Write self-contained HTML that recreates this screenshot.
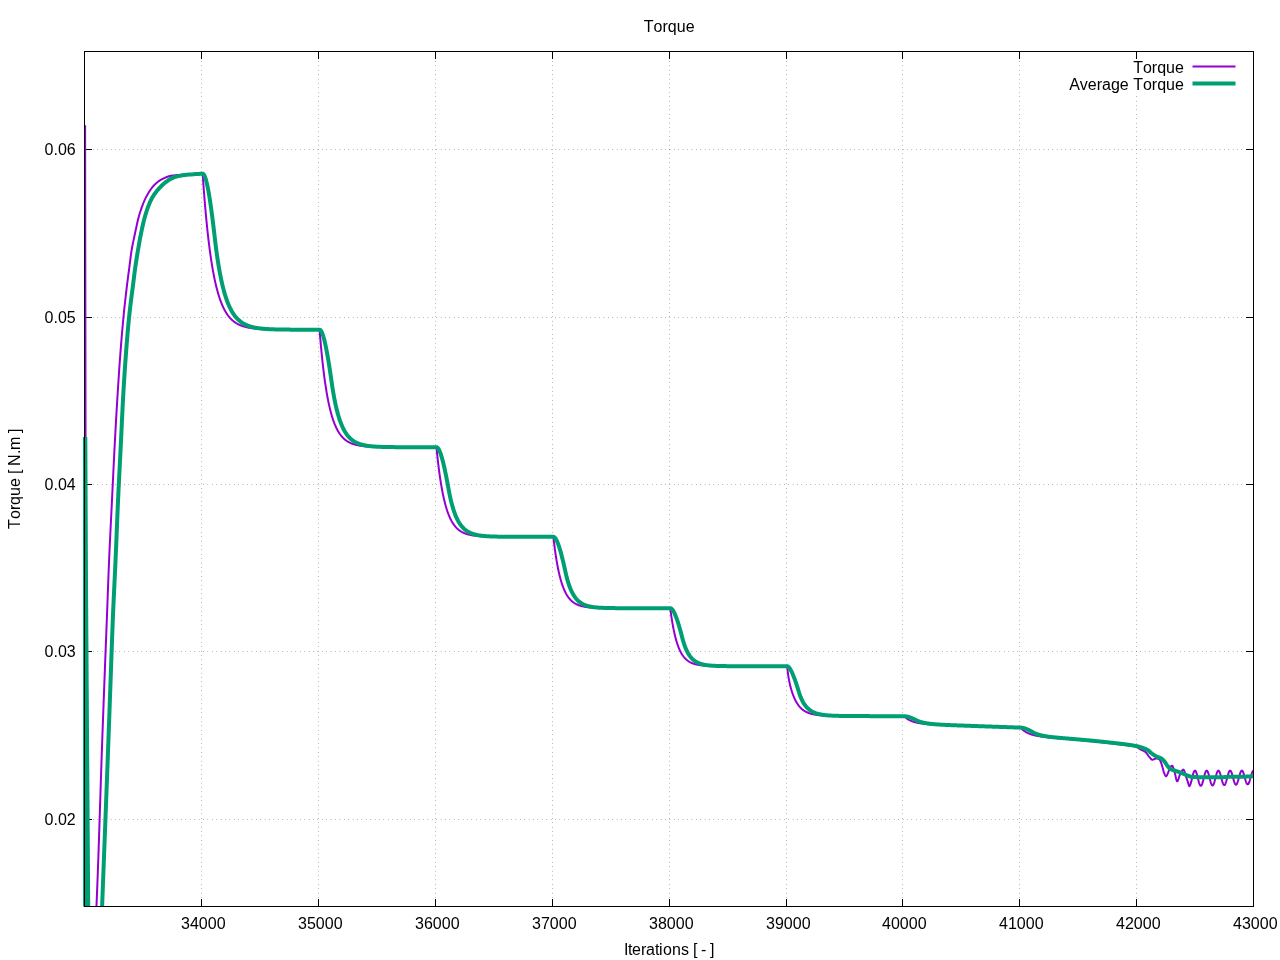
<!DOCTYPE html>
<html lang="en">
<head>
<meta charset="utf-8">
<title>Torque</title>
<style>
html,body{margin:0;padding:0;background:#fff;}
body{width:1280px;height:960px;overflow:hidden;}
svg{display:block;}
</style>
</head>
<body>
<svg width="1280" height="960" viewBox="0 0 1280 960" role="img" aria-label="Torque">
<rect width="1280" height="960" fill="#fff"/>
<g stroke="#000" stroke-width="1" stroke-dasharray="0.4 4" fill="none" stroke-opacity="0.7">
<path d="M84.5,149.5 H1253.5"/>
<path d="M84.5,317.5 H1253.5"/>
<path d="M84.5,484.5 H1253.5"/>
<path d="M84.5,651.5 H1253.5"/>
<path d="M84.5,819.5 H1253.5"/>
<path d="M201.5,906.5 V51.5"/>
<path d="M318.5,906.5 V51.5"/>
<path d="M435.5,906.5 V51.5"/>
<path d="M552.5,906.5 V51.5"/>
<path d="M669.5,906.5 V51.5"/>
<path d="M786.5,906.5 V51.5"/>
<path d="M902.5,906.5 V51.5"/>
<path d="M1019.5,906.5 V51.5"/>
<path d="M1136.5,906.5 V51.5"/>
</g>
<g stroke="#000" stroke-width="1" fill="none">
<path d="M84.5,149.5 h7.5 M1253.5,149.5 h-7.5"/>
<path d="M84.5,317.5 h7.5 M1253.5,317.5 h-7.5"/>
<path d="M84.5,484.5 h7.5 M1253.5,484.5 h-7.5"/>
<path d="M84.5,651.5 h7.5 M1253.5,651.5 h-7.5"/>
<path d="M84.5,819.5 h7.5 M1253.5,819.5 h-7.5"/>
<path d="M201.5,906.5 v-7.5 M201.5,51.5 v7.5"/>
<path d="M318.5,906.5 v-7.5 M318.5,51.5 v7.5"/>
<path d="M435.5,906.5 v-7.5 M435.5,51.5 v7.5"/>
<path d="M552.5,906.5 v-7.5 M552.5,51.5 v7.5"/>
<path d="M669.5,906.5 v-7.5 M669.5,51.5 v7.5"/>
<path d="M786.5,906.5 v-7.5 M786.5,51.5 v7.5"/>
<path d="M902.5,906.5 v-7.5 M902.5,51.5 v7.5"/>
<path d="M1019.5,906.5 v-7.5 M1019.5,51.5 v7.5"/>
<path d="M1136.5,906.5 v-7.5 M1136.5,51.5 v7.5"/>
<path d="M1253.5,906.5 v-7.5 M1253.5,51.5 v7.5"/>
</g>
<rect x="1062" y="59.5" width="183" height="35.5" fill="#fff"/>
<g fill="none" stroke-linejoin="round" stroke-linecap="butt">
<g stroke="#9400d3" stroke-width="2">
<path d="M85.1,125.3 L85.55,437 L86.2,906.5"/>
<path d="M96.46,906.50 L96.55,904.25 L96.65,902.00 L96.74,899.76 L96.83,897.51 L96.92,895.26 L97.01,893.01 L97.10,890.76 L97.19,888.51 L97.28,886.27 L97.37,884.02 L97.45,881.77 L97.54,879.52 L97.63,877.27 L97.71,875.02 L97.80,872.78 L97.88,870.53 L97.96,868.28 L98.04,866.03 L98.12,863.78 L98.20,861.53 L98.28,859.29 L98.36,857.04 L98.44,854.79 L98.52,852.54 L98.60,850.29 L98.67,848.04 L98.75,845.79 L98.83,843.54 L98.90,841.30 L98.98,839.05 L99.05,836.80 L99.12,834.55 L99.20,832.30 L99.27,830.05 L99.35,827.80 L99.42,825.55 L99.49,823.31 L99.56,821.06 L99.64,818.81 L99.71,816.56 L99.78,814.31 L99.85,812.06 L99.93,809.81 L100.00,807.56 L100.07,805.31 L100.14,803.07 L100.22,800.82 L100.29,798.57 L100.36,796.32 L100.43,794.07 L100.51,791.82 L100.58,789.57 L100.65,787.32 L100.72,785.08 L100.80,782.83 L100.87,780.58 L100.94,778.33 L101.02,776.08 L101.09,773.83 L101.17,771.58 L101.24,769.33 L101.32,767.09 L101.39,764.84 L101.47,762.59 L101.54,760.34 L101.62,758.09 L101.70,755.84 L101.78,753.59 L101.85,751.34 L101.93,749.10 L102.01,746.85 L102.09,744.60 L102.17,742.35 L102.25,740.10 L102.33,737.85 L102.41,735.60 L102.49,733.36 L102.58,731.11 L102.66,728.86 L102.74,726.61 L102.82,724.36 L102.90,722.11 L102.99,719.86 L103.07,717.62 L103.15,715.37 L103.24,713.12 L103.32,710.87 L103.40,708.62 L103.49,706.37 L103.57,704.13 L103.65,701.88 L103.74,699.63 L103.82,697.38 L103.91,695.13 L103.99,692.88 L104.08,690.64 L104.16,688.39 L104.25,686.14 L104.33,683.89 L104.42,681.64 L104.50,679.39 L104.59,677.14 L104.67,674.90 L104.76,672.65 L104.85,670.40 L104.93,668.15 L105.02,665.90 L105.11,663.65 L105.20,661.41 L105.28,659.16 L105.37,656.91 L105.46,654.66 L105.55,652.41 L105.63,650.17 L105.72,647.92 L105.81,645.67 L105.90,643.42 L105.98,641.17 L106.07,638.92 L106.16,636.68 L106.25,634.43 L106.33,632.18 L106.42,629.93 L106.51,627.68 L106.60,625.43 L106.68,623.19 L106.77,620.94 L106.86,618.69 L106.94,616.44 L107.03,614.19 L107.12,611.94 L107.20,609.70 L107.29,607.45 L107.37,605.20 L107.45,602.95 L107.54,600.70 L107.62,598.45 L107.70,596.20 L107.78,593.96 L107.87,591.71 L107.95,589.46 L108.03,587.21 L108.12,584.96 L108.20,582.71 L108.29,580.47 L108.37,578.22 L108.46,575.97 L108.54,573.72 L108.63,571.47 L108.72,569.22 L108.81,566.98 L108.90,564.73 L109.00,562.48 L109.09,560.23 L109.19,557.98 L109.29,555.74 L109.39,553.49 L109.49,551.24 L109.59,548.99 L109.70,546.75 L109.80,544.50 L109.91,542.25 L110.01,540.00 L110.12,537.76 L110.23,535.51 L110.34,533.26 L110.45,531.01 L110.56,528.77 L110.68,526.52 L110.79,524.27 L110.90,522.02 L111.01,519.78 L111.13,517.53 L111.24,515.28 L111.35,513.04 L111.47,510.79 L111.58,508.54 L111.69,506.29 L111.80,504.05 L111.91,501.80 L112.02,499.55 L112.13,497.31 L112.24,495.06 L112.35,492.81 L112.46,490.56 L112.56,488.32 L112.67,486.07 L112.78,483.82 L112.89,481.57 L112.99,479.33 L113.10,477.08 L113.21,474.83 L113.32,472.58 L113.43,470.34 L113.54,468.09 L113.65,465.84 L113.76,463.59 L113.87,461.35 L113.98,459.10 L114.09,456.85 L114.20,454.61 L114.32,452.36 L114.43,450.11 L114.55,447.86 L114.67,445.62 L114.79,443.37 L114.91,441.12 L115.03,438.88 L115.15,436.63 L115.27,434.38 L115.40,432.14 L115.52,429.89 L115.64,427.64 L115.77,425.40 L115.90,423.15 L116.02,420.90 L116.15,418.66 L116.28,416.41 L116.41,414.17 L116.54,411.92 L116.67,409.67 L116.81,407.43 L116.94,405.18 L117.08,402.94 L117.21,400.69 L117.35,398.44 L117.49,396.20 L117.63,393.95 L117.77,391.71 L117.91,389.46 L118.05,387.22 L118.20,384.97 L118.34,382.72 L118.49,380.48 L118.63,378.23 L118.78,375.99 L118.93,373.74 L119.08,371.50 L119.24,369.25 L119.39,367.01 L119.55,364.77 L119.71,362.52 L119.87,360.28 L120.03,358.03 L120.20,355.79 L120.37,353.55 L120.54,351.30 L120.72,349.06 L120.89,346.82 L121.07,344.57 L121.25,342.33 L121.44,340.09 L121.62,337.85 L121.81,335.60 L122.00,333.36 L122.20,331.12 L122.39,328.88 L122.59,326.64 L122.80,324.40 L123.00,322.16 L123.22,319.92 L123.43,317.68 L123.65,315.44 L123.87,313.20 L124.10,310.96 L124.33,308.72 L124.57,306.48 L124.81,304.25 L125.05,302.01 L125.30,299.77 L125.55,297.54 L125.80,295.30 L126.06,293.07 L126.33,290.83 L126.59,288.60 L126.86,286.37 L127.14,284.13 L127.43,281.90 L127.72,279.67 L128.01,277.44 L128.30,275.21 L128.60,272.98 L128.89,270.75 L129.18,268.51 L129.46,266.28 L129.74,264.05 L130.02,261.82 L130.30,259.58 L130.58,257.35 L130.88,255.12 L131.20,252.90 L131.54,250.67 L131.92,248.46 L132.32,246.24 L132.75,244.03 L133.20,241.83 L133.67,239.63 L134.14,237.43 L134.62,235.23 L135.09,233.03 L135.56,230.83 L136.02,228.63 L136.49,226.43 L136.96,224.23 L137.45,222.03 L137.97,219.85 L138.53,217.67 L139.12,215.50 L139.76,213.34 L140.43,211.19 L141.14,209.06 L141.89,206.94 L142.68,204.84 L143.52,202.75 L144.40,200.68 L145.34,198.64 L146.34,196.63 L147.41,194.66 L148.55,192.72 L149.76,190.83 L151.04,188.99 L152.40,187.21 L153.86,185.52 L155.43,183.92 L157.09,182.44 L158.86,181.08 L160.73,179.86 L162.68,178.78 L164.70,177.82 L166.78,177.00 L168.90,176.32 L171.07,175.79 L173.26,175.41 L175.49,175.17 L177.72,175.00 L179.97,174.88 L182.21,174.76 L184.46,174.63 L186.71,174.50 L188.95,174.37 L191.20,174.25 L193.45,174.13 L195.69,174.01 L197.94,173.90 L200.19,173.80 L202.65,173.70 L202.95,178.05 L203.25,182.28 L203.55,186.40 L203.85,190.40 L204.15,194.28 L204.45,198.06 L204.75,201.74 L205.05,205.31 L205.35,208.78 L205.65,212.15 L205.95,215.43 L206.25,218.62 L206.55,221.72 L206.85,224.73 L207.15,227.66 L207.45,230.51 L207.75,233.28 L208.05,235.97 L208.35,238.59 L208.65,241.13 L208.95,243.60 L209.25,246.00 L209.55,248.34 L209.85,250.61 L210.15,252.82 L210.45,254.96 L210.75,257.05 L211.05,259.07 L211.35,261.04 L211.65,262.96 L211.95,264.82 L212.25,266.63 L212.55,268.39 L212.85,270.10 L213.15,271.77 L213.45,273.38 L213.75,274.95 L214.05,276.48 L214.35,277.97 L214.65,279.41 L214.95,280.81 L215.25,282.18 L215.55,283.50 L215.85,284.79 L216.15,286.05 L216.45,287.27 L216.75,288.45 L217.05,289.60 L217.35,290.72 L217.65,291.81 L217.95,292.86 L218.25,293.89 L218.55,294.89 L218.85,295.86 L219.15,296.81 L219.45,297.73 L219.75,298.62 L220.05,299.48 L220.35,300.33 L220.65,301.15 L220.95,301.94 L221.25,302.72 L221.55,303.47 L221.85,304.20 L222.15,304.92 L222.45,305.61 L222.75,306.28 L223.05,306.93 L223.35,307.57 L223.65,308.19 L223.95,308.79 L224.25,309.37 L224.55,309.94 L224.85,310.49 L225.15,311.02 L225.45,311.55 L225.75,312.05 L226.05,312.54 L226.35,313.02 L226.65,313.49 L226.95,313.94 L227.25,314.38 L227.55,314.81 L227.85,315.22 L228.15,315.63 L228.45,316.02 L228.75,316.40 L229.05,316.77 L229.35,317.13 L229.65,317.48 L229.95,317.83 L230.25,318.16 L230.55,318.48 L230.85,318.79 L231.15,319.10 L231.45,319.39 L231.75,319.68 L232.05,319.96 L232.35,320.23 L232.65,320.50 L232.95,320.75 L233.25,321.00 L233.55,321.24 L233.85,321.48 L234.15,321.71 L234.45,321.93 L234.75,322.15 L235.05,322.36 L235.35,322.57 L235.65,322.76 L235.95,322.96 L236.25,323.15 L236.55,323.33 L236.85,323.51 L237.15,323.68 L237.45,323.85 L237.75,324.01 L238.05,324.17 L238.35,324.32 L238.65,324.47 L238.95,324.62 L239.25,324.76 L239.55,324.90 L239.85,325.03 L240.15,325.16 L240.45,325.29 L240.75,325.41 L241.05,325.53 L241.35,325.65 L241.65,325.76 L241.95,325.87 L242.25,325.98 L242.55,326.08 L242.85,326.18 L243.15,326.28 L243.45,326.38 L243.75,326.47 L244.05,326.56 L244.35,326.65 L244.65,326.73 L244.95,326.82 L245.25,326.90 L245.55,326.97 L245.85,327.05 L246.15,327.12 L246.45,327.20 L246.75,327.27 L247.05,327.33 L247.35,327.40 L247.65,327.46 L247.95,327.53 L248.25,327.59 L248.55,327.65 L248.85,327.70 L249.15,327.76 L249.45,327.81 L249.75,327.87 L250.05,327.92 L250.35,327.97 L250.65,328.02 L250.95,328.06 L251.25,328.11 L251.55,328.15 L251.85,328.20 L252.15,328.24 L252.45,328.28 L252.75,328.32 L253.05,328.36 L253.35,328.39 L253.65,328.43 L253.95,328.47 L254.25,328.50 L254.55,328.53 L254.85,328.57 L255.15,328.60 L255.45,328.63 L255.75,328.66 L256.05,328.69 L256.35,328.72 L256.65,328.74 L256.95,328.77 L257.25,328.80 L257.55,328.82 L257.85,328.85 L258.15,328.87 L258.45,328.89 L258.75,328.92 L259.05,328.94 L259.35,328.96 L259.65,328.98 L259.95,329.00 L260.25,329.02 L260.55,329.04 L260.85,329.06 L261.15,329.07 L261.45,329.09 L261.75,329.11 L262.05,329.13 L262.35,329.14 L262.65,329.16 L262.95,329.17 L263.25,329.19 L263.55,329.20 L263.85,329.22 L264.15,329.23 L264.45,329.24 L264.75,329.25 L265.05,329.27 L265.35,329.28 L265.65,329.29 L265.95,329.30 L266.25,329.31 L266.55,329.32 L266.85,329.33 L267.15,329.34 L267.45,329.35 L267.75,329.36 L268.05,329.37 L268.35,329.38 L268.65,329.39 L268.95,329.40 L269.25,329.41 L269.55,329.42 L269.85,329.42 L270.15,329.43 L270.45,329.44 L270.75,329.45 L271.05,329.45 L271.35,329.46 L271.65,329.47 L271.95,329.47 L272.25,329.48 L272.55,329.49 L272.85,329.49 L273.15,329.50 L273.45,329.50 L273.75,329.51 L274.05,329.51 L274.35,329.52 L274.65,329.52 L274.95,329.53 L275.25,329.53 L275.55,329.54 L275.85,329.54 L276.15,329.55 L276.45,329.55 L276.75,329.56 L277.05,329.56 L277.35,329.56 L277.65,329.57 L277.95,329.57 L278.25,329.58 L278.55,329.58 L278.85,329.58 L279.15,329.59 L279.45,329.59 L279.75,329.59 L280.05,329.59 L280.35,329.60 L280.65,329.60 L280.95,329.60 L281.25,329.61 L281.55,329.61 L281.85,329.61 L282.15,329.61 L282.45,329.62 L282.75,329.62 L283.05,329.62 L283.35,329.62 L283.65,329.63 L283.95,329.63 L284.25,329.63 L284.55,329.63 L284.85,329.63 L285.15,329.63 L285.45,329.64 L285.75,329.64 L286.05,329.64 L286.35,329.64 L286.65,329.64 L286.95,329.65 L287.25,329.65 L287.55,329.65 L287.85,329.65 L288.15,329.65 L288.45,329.65 L288.75,329.65 L289.05,329.65 L289.35,329.66 L289.65,329.66 L289.95,329.66 L290.25,329.66 L290.55,329.66 L290.85,329.66 L291.15,329.66 L291.45,329.66 L291.75,329.67 L292.05,329.67 L292.35,329.67 L292.65,329.67 L292.95,329.67 L293.25,329.67 L293.55,329.67 L293.85,329.67 L294.15,329.67 L294.45,329.67 L294.75,329.67 L295.05,329.67 L295.35,329.68 L295.65,329.68 L295.95,329.68 L296.25,329.68 L296.55,329.68 L296.85,329.68 L297.15,329.68 L297.45,329.68 L297.75,329.68 L298.05,329.68 L298.35,329.68 L298.65,329.68 L298.95,329.68 L299.25,329.68 L299.55,329.68 L299.85,329.68 L300.15,329.68 L300.45,329.68 L300.75,329.69 L301.05,329.69 L301.35,329.69 L301.65,329.69 L301.95,329.69 L302.25,329.69 L302.55,329.69 L302.85,329.69 L303.15,329.69 L303.45,329.69 L303.75,329.69 L304.05,329.69 L304.35,329.69 L304.65,329.69 L304.95,329.69 L305.25,329.69 L305.55,329.69 L305.85,329.69 L306.15,329.69 L306.45,329.69 L306.75,329.69 L307.05,329.69 L307.35,329.69 L307.65,329.69 L307.95,329.69 L308.25,329.69 L308.55,329.69 L308.85,329.69 L309.15,329.69 L309.45,329.69 L309.75,329.69 L310.05,329.69 L310.35,329.69 L310.65,329.69 L310.95,329.69 L311.25,329.69 L311.55,329.69 L311.85,329.69 L312.15,329.69 L312.45,329.70 L312.75,329.70 L313.05,329.70 L313.35,329.70 L313.65,329.70 L313.95,329.70 L314.25,329.70 L314.55,329.70 L314.85,329.70 L315.15,329.70 L315.45,329.70 L315.75,329.70 L316.05,329.70 L316.35,329.70 L316.65,329.70 L316.95,329.70 L317.25,329.70 L317.55,329.70 L317.85,329.70 L318.15,329.70 L318.45,329.70 L318.75,329.70 L319.05,329.70 L319.35,329.70 L319.65,330.96 L319.95,334.65 L320.25,338.22 L320.55,341.68 L320.85,345.03 L321.15,348.27 L321.45,351.41 L321.75,354.45 L322.05,357.40 L322.35,360.25 L322.65,363.01 L322.95,365.68 L323.25,368.27 L323.55,370.77 L323.85,373.20 L324.15,375.55 L324.45,377.82 L324.75,380.03 L325.05,382.16 L325.35,384.22 L325.65,386.22 L325.95,388.16 L326.25,390.03 L326.55,391.85 L326.85,393.60 L327.15,395.30 L327.45,396.95 L327.75,398.55 L328.05,400.09 L328.35,401.59 L328.65,403.03 L328.95,404.44 L329.25,405.79 L329.55,407.11 L329.85,408.38 L330.15,409.61 L330.45,410.81 L330.75,411.96 L331.05,413.08 L331.35,414.16 L331.65,415.21 L331.95,416.23 L332.25,417.21 L332.55,418.16 L332.85,419.08 L333.15,419.98 L333.45,420.84 L333.75,421.68 L334.05,422.49 L334.35,423.27 L334.65,424.03 L334.95,424.77 L335.25,425.48 L335.55,426.17 L335.85,426.84 L336.15,427.48 L336.45,428.11 L336.75,428.71 L337.05,429.30 L337.35,429.87 L337.65,430.42 L337.95,430.95 L338.25,431.47 L338.55,431.97 L338.85,432.45 L339.15,432.92 L339.45,433.37 L339.75,433.81 L340.05,434.24 L340.35,434.65 L340.65,435.05 L340.95,435.43 L341.25,435.81 L341.55,436.17 L341.85,436.52 L342.15,436.86 L342.45,437.19 L342.75,437.50 L343.05,437.81 L343.35,438.11 L343.65,438.40 L343.95,438.68 L344.25,438.95 L344.55,439.21 L344.85,439.46 L345.15,439.71 L345.45,439.95 L345.75,440.18 L346.05,440.40 L346.35,440.62 L346.65,440.82 L346.95,441.03 L347.25,441.22 L347.55,441.41 L347.85,441.60 L348.15,441.77 L348.45,441.95 L348.75,442.11 L349.05,442.27 L349.35,442.43 L349.65,442.58 L349.95,442.73 L350.25,442.87 L350.55,443.01 L350.85,443.14 L351.15,443.27 L351.45,443.39 L351.75,443.52 L352.05,443.63 L352.35,443.75 L352.65,443.86 L352.95,443.96 L353.25,444.06 L353.55,444.16 L353.85,444.26 L354.15,444.35 L354.45,444.44 L354.75,444.53 L355.05,444.62 L355.35,444.70 L355.65,444.78 L355.95,444.85 L356.25,444.93 L356.55,445.00 L356.85,445.07 L357.15,445.14 L357.45,445.20 L357.75,445.27 L358.05,445.33 L358.35,445.39 L358.65,445.45 L358.95,445.50 L359.25,445.56 L359.55,445.61 L359.85,445.66 L360.15,445.71 L360.45,445.75 L360.75,445.80 L361.05,445.84 L361.35,445.89 L361.65,445.93 L361.95,445.97 L362.25,446.01 L362.55,446.05 L362.85,446.08 L363.15,446.12 L363.45,446.15 L363.75,446.19 L364.05,446.22 L364.35,446.25 L364.65,446.28 L364.95,446.31 L365.25,446.34 L365.55,446.36 L365.85,446.39 L366.15,446.42 L366.45,446.44 L366.75,446.47 L367.05,446.49 L367.35,446.51 L367.65,446.53 L367.95,446.55 L368.25,446.58 L368.55,446.59 L368.85,446.61 L369.15,446.63 L369.45,446.65 L369.75,446.67 L370.05,446.69 L370.35,446.70 L370.65,446.72 L370.95,446.73 L371.25,446.75 L371.55,446.76 L371.85,446.78 L372.15,446.79 L372.45,446.80 L372.75,446.81 L373.05,446.83 L373.35,446.84 L373.65,446.85 L373.95,446.86 L374.25,446.87 L374.55,446.88 L374.85,446.89 L375.15,446.90 L375.45,446.91 L375.75,446.92 L376.05,446.93 L376.35,446.94 L376.65,446.95 L376.95,446.95 L377.25,446.96 L377.55,446.97 L377.85,446.98 L378.15,446.98 L378.45,446.99 L378.75,447.00 L379.05,447.00 L379.35,447.01 L379.65,447.02 L379.95,447.02 L380.25,447.03 L380.55,447.03 L380.85,447.04 L381.15,447.04 L381.45,447.05 L381.75,447.05 L382.05,447.06 L382.35,447.06 L382.65,447.07 L382.95,447.07 L383.25,447.08 L383.55,447.08 L383.85,447.08 L384.15,447.09 L384.45,447.09 L384.75,447.09 L385.05,447.10 L385.35,447.10 L385.65,447.10 L385.95,447.11 L386.25,447.11 L386.55,447.11 L386.85,447.12 L387.15,447.12 L387.45,447.12 L387.75,447.12 L388.05,447.13 L388.35,447.13 L388.65,447.13 L388.95,447.13 L389.25,447.13 L389.55,447.14 L389.85,447.14 L390.15,447.14 L390.45,447.14 L390.75,447.14 L391.05,447.15 L391.35,447.15 L391.65,447.15 L391.95,447.15 L392.25,447.15 L392.55,447.15 L392.85,447.16 L393.15,447.16 L393.45,447.16 L393.75,447.16 L394.05,447.16 L394.35,447.16 L394.65,447.16 L394.95,447.16 L395.25,447.17 L395.55,447.17 L395.85,447.17 L396.15,447.17 L396.45,447.17 L396.75,447.17 L397.05,447.17 L397.35,447.17 L397.65,447.17 L397.95,447.17 L398.25,447.18 L398.55,447.18 L398.85,447.18 L399.15,447.18 L399.45,447.18 L399.75,447.18 L400.05,447.18 L400.35,447.18 L400.65,447.18 L400.95,447.18 L401.25,447.18 L401.55,447.18 L401.85,447.18 L402.15,447.18 L402.45,447.18 L402.75,447.18 L403.05,447.19 L403.35,447.19 L403.65,447.19 L403.95,447.19 L404.25,447.19 L404.55,447.19 L404.85,447.19 L405.15,447.19 L405.45,447.19 L405.75,447.19 L406.05,447.19 L406.35,447.19 L406.65,447.19 L406.95,447.19 L407.25,447.19 L407.55,447.19 L407.85,447.19 L408.15,447.19 L408.45,447.19 L408.75,447.19 L409.05,447.19 L409.35,447.19 L409.65,447.19 L409.95,447.19 L410.25,447.19 L410.55,447.19 L410.85,447.19 L411.15,447.19 L411.45,447.19 L411.75,447.19 L412.05,447.19 L412.35,447.19 L412.65,447.19 L412.95,447.19 L413.25,447.20 L413.55,447.20 L413.85,447.20 L414.15,447.20 L414.45,447.20 L414.75,447.20 L415.05,447.20 L415.35,447.20 L415.65,447.20 L415.95,447.20 L416.25,447.20 L416.55,447.20 L416.85,447.20 L417.15,447.20 L417.45,447.20 L417.75,447.20 L418.05,447.20 L418.35,447.20 L418.65,447.20 L418.95,447.20 L419.25,447.20 L419.55,447.20 L419.85,447.20 L420.15,447.20 L420.45,447.20 L420.75,447.20 L421.05,447.20 L421.35,447.20 L421.65,447.20 L421.95,447.20 L422.25,447.20 L422.55,447.20 L422.85,447.20 L423.15,447.20 L423.45,447.20 L423.75,447.20 L424.05,447.20 L424.35,447.20 L424.65,447.20 L424.95,447.20 L425.25,447.20 L425.55,447.20 L425.85,447.20 L426.15,447.20 L426.45,447.20 L426.75,447.20 L427.05,447.20 L427.35,447.20 L427.65,447.20 L427.95,447.20 L428.25,447.20 L428.55,447.20 L428.85,447.20 L429.15,447.20 L429.45,447.20 L429.75,447.20 L430.05,447.20 L430.35,447.20 L430.65,447.20 L430.95,447.20 L431.25,447.20 L431.55,447.20 L431.85,447.20 L432.15,447.20 L432.45,447.20 L432.75,447.20 L433.05,447.20 L433.35,447.20 L433.65,447.20 L433.95,447.20 L434.25,447.20 L434.55,447.20 L434.85,447.20 L435.15,447.20 L435.45,447.20 L435.75,447.20 L436.05,447.20 L436.35,447.20 L436.65,449.24 L436.95,452.20 L437.25,455.07 L437.55,457.84 L437.85,460.52 L438.15,463.10 L438.45,465.60 L438.75,468.01 L439.05,470.35 L439.35,472.60 L439.65,474.77 L439.95,476.88 L440.25,478.91 L440.55,480.87 L440.85,482.77 L441.15,484.60 L441.45,486.37 L441.75,488.08 L442.05,489.73 L442.35,491.32 L442.65,492.86 L442.95,494.35 L443.25,495.79 L443.55,497.18 L443.85,498.53 L444.15,499.82 L444.45,501.08 L444.75,502.29 L445.05,503.46 L445.35,504.59 L445.65,505.68 L445.95,506.73 L446.25,507.75 L446.55,508.74 L446.85,509.69 L447.15,510.61 L447.45,511.50 L447.75,512.35 L448.05,513.18 L448.35,513.98 L448.65,514.76 L448.95,515.50 L449.25,516.22 L449.55,516.92 L449.85,517.60 L450.15,518.25 L450.45,518.88 L450.75,519.48 L451.05,520.07 L451.35,520.64 L451.65,521.19 L451.95,521.71 L452.25,522.23 L452.55,522.72 L452.85,523.20 L453.15,523.66 L453.45,524.10 L453.75,524.53 L454.05,524.95 L454.35,525.35 L454.65,525.74 L454.95,526.11 L455.25,526.48 L455.55,526.83 L455.85,527.16 L456.15,527.49 L456.45,527.81 L456.75,528.11 L457.05,528.41 L457.35,528.69 L457.65,528.97 L457.95,529.23 L458.25,529.49 L458.55,529.74 L458.85,529.97 L459.15,530.21 L459.45,530.43 L459.75,530.65 L460.05,530.85 L460.35,531.06 L460.65,531.25 L460.95,531.44 L461.25,531.62 L461.55,531.80 L461.85,531.97 L462.15,532.13 L462.45,532.29 L462.75,532.44 L463.05,532.59 L463.35,532.73 L463.65,532.87 L463.95,533.00 L464.25,533.13 L464.55,533.26 L464.85,533.38 L465.15,533.49 L465.45,533.60 L465.75,533.71 L466.05,533.82 L466.35,533.92 L466.65,534.02 L466.95,534.11 L467.25,534.20 L467.55,534.29 L467.85,534.37 L468.15,534.46 L468.45,534.54 L468.75,534.61 L469.05,534.69 L469.35,534.76 L469.65,534.83 L469.95,534.89 L470.25,534.96 L470.55,535.02 L470.85,535.08 L471.15,535.14 L471.45,535.20 L471.75,535.25 L472.05,535.30 L472.35,535.35 L472.65,535.40 L472.95,535.45 L473.25,535.50 L473.55,535.54 L473.85,535.58 L474.15,535.62 L474.45,535.66 L474.75,535.70 L475.05,535.74 L475.35,535.78 L475.65,535.81 L475.95,535.84 L476.25,535.88 L476.55,535.91 L476.85,535.94 L477.15,535.97 L477.45,536.00 L477.75,536.02 L478.05,536.05 L478.35,536.07 L478.65,536.10 L478.95,536.12 L479.25,536.15 L479.55,536.17 L479.85,536.19 L480.15,536.21 L480.45,536.23 L480.75,536.25 L481.05,536.27 L481.35,536.29 L481.65,536.30 L481.95,536.32 L482.25,536.34 L482.55,536.35 L482.85,536.37 L483.15,536.38 L483.45,536.40 L483.75,536.41 L484.05,536.42 L484.35,536.44 L484.65,536.45 L484.95,536.46 L485.25,536.47 L485.55,536.48 L485.85,536.49 L486.15,536.50 L486.45,536.51 L486.75,536.52 L487.05,536.53 L487.35,536.54 L487.65,536.55 L487.95,536.56 L488.25,536.57 L488.55,536.58 L488.85,536.58 L489.15,536.59 L489.45,536.60 L489.75,536.60 L490.05,536.61 L490.35,536.62 L490.65,536.62 L490.95,536.63 L491.25,536.64 L491.55,536.64 L491.85,536.65 L492.15,536.65 L492.45,536.66 L492.75,536.66 L493.05,536.67 L493.35,536.67 L493.65,536.67 L493.95,536.68 L494.25,536.68 L494.55,536.69 L494.85,536.69 L495.15,536.69 L495.45,536.70 L495.75,536.70 L496.05,536.71 L496.35,536.71 L496.65,536.71 L496.95,536.71 L497.25,536.72 L497.55,536.72 L497.85,536.72 L498.15,536.73 L498.45,536.73 L498.75,536.73 L499.05,536.73 L499.35,536.74 L499.65,536.74 L499.95,536.74 L500.25,536.74 L500.55,536.74 L500.85,536.75 L501.15,536.75 L501.45,536.75 L501.75,536.75 L502.05,536.75 L502.35,536.75 L502.65,536.76 L502.95,536.76 L503.25,536.76 L503.55,536.76 L503.85,536.76 L504.15,536.76 L504.45,536.76 L504.75,536.77 L505.05,536.77 L505.35,536.77 L505.65,536.77 L505.95,536.77 L506.25,536.77 L506.55,536.77 L506.85,536.77 L507.15,536.77 L507.45,536.77 L507.75,536.78 L508.05,536.78 L508.35,536.78 L508.65,536.78 L508.95,536.78 L509.25,536.78 L509.55,536.78 L509.85,536.78 L510.15,536.78 L510.45,536.78 L510.75,536.78 L511.05,536.78 L511.35,536.78 L511.65,536.78 L511.95,536.78 L512.25,536.79 L512.55,536.79 L512.85,536.79 L513.15,536.79 L513.45,536.79 L513.75,536.79 L514.05,536.79 L514.35,536.79 L514.65,536.79 L514.95,536.79 L515.25,536.79 L515.55,536.79 L515.85,536.79 L516.15,536.79 L516.45,536.79 L516.75,536.79 L517.05,536.79 L517.35,536.79 L517.65,536.79 L517.95,536.79 L518.25,536.79 L518.55,536.79 L518.85,536.79 L519.15,536.79 L519.45,536.79 L519.75,536.79 L520.05,536.79 L520.35,536.79 L520.65,536.79 L520.95,536.79 L521.25,536.79 L521.55,536.79 L521.85,536.80 L522.15,536.80 L522.45,536.80 L522.75,536.80 L523.05,536.80 L523.35,536.80 L523.65,536.80 L523.95,536.80 L524.25,536.80 L524.55,536.80 L524.85,536.80 L525.15,536.80 L525.45,536.80 L525.75,536.80 L526.05,536.80 L526.35,536.80 L526.65,536.80 L526.95,536.80 L527.25,536.80 L527.55,536.80 L527.85,536.80 L528.15,536.80 L528.45,536.80 L528.75,536.80 L529.05,536.80 L529.35,536.80 L529.65,536.80 L529.95,536.80 L530.25,536.80 L530.55,536.80 L530.85,536.80 L531.15,536.80 L531.45,536.80 L531.75,536.80 L532.05,536.80 L532.35,536.80 L532.65,536.80 L532.95,536.80 L533.25,536.80 L533.55,536.80 L533.85,536.80 L534.15,536.80 L534.45,536.80 L534.75,536.80 L535.05,536.80 L535.35,536.80 L535.65,536.80 L535.95,536.80 L536.25,536.80 L536.55,536.80 L536.85,536.80 L537.15,536.80 L537.45,536.80 L537.75,536.80 L538.05,536.80 L538.35,536.80 L538.65,536.80 L538.95,536.80 L539.25,536.80 L539.55,536.80 L539.85,536.80 L540.15,536.80 L540.45,536.80 L540.75,536.80 L541.05,536.80 L541.35,536.80 L541.65,536.80 L541.95,536.80 L542.25,536.80 L542.55,536.80 L542.85,536.80 L543.15,536.80 L543.45,536.80 L543.75,536.80 L544.05,536.80 L544.35,536.80 L544.65,536.80 L544.95,536.80 L545.25,536.80 L545.55,536.80 L545.85,536.80 L546.15,536.80 L546.45,536.80 L546.75,536.80 L547.05,536.80 L547.35,536.80 L547.65,536.80 L547.95,536.80 L548.25,536.80 L548.55,536.80 L548.85,536.80 L549.15,536.80 L549.45,536.80 L549.75,536.80 L550.05,536.80 L550.35,536.80 L550.65,536.80 L550.95,536.80 L551.25,536.80 L551.55,536.80 L551.85,536.80 L552.15,536.80 L552.45,536.80 L552.75,536.80 L553.05,536.80 L553.35,536.80 L553.65,539.43 L553.95,541.96 L554.25,544.40 L554.55,546.75 L554.85,549.01 L555.15,551.19 L555.45,553.28 L555.75,555.31 L556.05,557.25 L556.35,559.13 L556.65,560.93 L556.95,562.67 L557.25,564.35 L557.55,565.96 L557.85,567.52 L558.15,569.01 L558.45,570.46 L558.75,571.85 L559.05,573.18 L559.35,574.47 L559.65,575.71 L559.95,576.91 L560.25,578.06 L560.55,579.17 L560.85,580.24 L561.15,581.27 L561.45,582.26 L561.75,583.21 L562.05,584.13 L562.35,585.02 L562.65,585.87 L562.95,586.69 L563.25,587.49 L563.55,588.25 L563.85,588.98 L564.15,589.69 L564.45,590.37 L564.75,591.03 L565.05,591.66 L565.35,592.27 L565.65,592.85 L565.95,593.42 L566.25,593.96 L566.55,594.49 L566.85,594.99 L567.15,595.48 L567.45,595.95 L567.75,596.40 L568.05,596.83 L568.35,597.25 L568.65,597.65 L568.95,598.04 L569.25,598.42 L569.55,598.78 L569.85,599.12 L570.15,599.46 L570.45,599.78 L570.75,600.09 L571.05,600.39 L571.35,600.67 L571.65,600.95 L571.95,601.22 L572.25,601.48 L572.55,601.72 L572.85,601.96 L573.15,602.19 L573.45,602.41 L573.75,602.62 L574.05,602.83 L574.35,603.03 L574.65,603.22 L574.95,603.40 L575.25,603.58 L575.55,603.75 L575.85,603.91 L576.15,604.07 L576.45,604.22 L576.75,604.37 L577.05,604.51 L577.35,604.65 L577.65,604.78 L577.95,604.90 L578.25,605.02 L578.55,605.14 L578.85,605.25 L579.15,605.36 L579.45,605.47 L579.75,605.57 L580.05,605.66 L580.35,605.76 L580.65,605.85 L580.95,605.93 L581.25,606.02 L581.55,606.10 L581.85,606.17 L582.15,606.25 L582.45,606.32 L582.75,606.39 L583.05,606.46 L583.35,606.52 L583.65,606.58 L583.95,606.64 L584.25,606.70 L584.55,606.75 L584.85,606.81 L585.15,606.86 L585.45,606.91 L585.75,606.96 L586.05,607.00 L586.35,607.05 L586.65,607.09 L586.95,607.13 L587.25,607.17 L587.55,607.21 L587.85,607.24 L588.15,607.28 L588.45,607.31 L588.75,607.35 L589.05,607.38 L589.35,607.41 L589.65,607.44 L589.95,607.46 L590.25,607.49 L590.55,607.52 L590.85,607.54 L591.15,607.57 L591.45,607.59 L591.75,607.61 L592.05,607.63 L592.35,607.65 L592.65,607.67 L592.95,607.69 L593.25,607.71 L593.55,607.73 L593.85,607.75 L594.15,607.76 L594.45,607.78 L594.75,607.80 L595.05,607.81 L595.35,607.83 L595.65,607.84 L595.95,607.85 L596.25,607.87 L596.55,607.88 L596.85,607.89 L597.15,607.90 L597.45,607.91 L597.75,607.92 L598.05,607.93 L598.35,607.94 L598.65,607.95 L598.95,607.96 L599.25,607.97 L599.55,607.98 L599.85,607.99 L600.15,607.99 L600.45,608.00 L600.75,608.01 L601.05,608.02 L601.35,608.02 L601.65,608.03 L601.95,608.04 L602.25,608.04 L602.55,608.05 L602.85,608.05 L603.15,608.06 L603.45,608.06 L603.75,608.07 L604.05,608.07 L604.35,608.08 L604.65,608.08 L604.95,608.09 L605.25,608.09 L605.55,608.10 L605.85,608.10 L606.15,608.10 L606.45,608.11 L606.75,608.11 L607.05,608.11 L607.35,608.12 L607.65,608.12 L607.95,608.12 L608.25,608.13 L608.55,608.13 L608.85,608.13 L609.15,608.13 L609.45,608.14 L609.75,608.14 L610.05,608.14 L610.35,608.14 L610.65,608.14 L610.95,608.15 L611.25,608.15 L611.55,608.15 L611.85,608.15 L612.15,608.15 L612.45,608.16 L612.75,608.16 L613.05,608.16 L613.35,608.16 L613.65,608.16 L613.95,608.16 L614.25,608.16 L614.55,608.17 L614.85,608.17 L615.15,608.17 L615.45,608.17 L615.75,608.17 L616.05,608.17 L616.35,608.17 L616.65,608.17 L616.95,608.17 L617.25,608.18 L617.55,608.18 L617.85,608.18 L618.15,608.18 L618.45,608.18 L618.75,608.18 L619.05,608.18 L619.35,608.18 L619.65,608.18 L619.95,608.18 L620.25,608.18 L620.55,608.18 L620.85,608.18 L621.15,608.19 L621.45,608.19 L621.75,608.19 L622.05,608.19 L622.35,608.19 L622.65,608.19 L622.95,608.19 L623.25,608.19 L623.55,608.19 L623.85,608.19 L624.15,608.19 L624.45,608.19 L624.75,608.19 L625.05,608.19 L625.35,608.19 L625.65,608.19 L625.95,608.19 L626.25,608.19 L626.55,608.19 L626.85,608.19 L627.15,608.19 L627.45,608.19 L627.75,608.19 L628.05,608.19 L628.35,608.19 L628.65,608.19 L628.95,608.19 L629.25,608.19 L629.55,608.19 L629.85,608.19 L630.15,608.20 L630.45,608.20 L630.75,608.20 L631.05,608.20 L631.35,608.20 L631.65,608.20 L631.95,608.20 L632.25,608.20 L632.55,608.20 L632.85,608.20 L633.15,608.20 L633.45,608.20 L633.75,608.20 L634.05,608.20 L634.35,608.20 L634.65,608.20 L634.95,608.20 L635.25,608.20 L635.55,608.20 L635.85,608.20 L636.15,608.20 L636.45,608.20 L636.75,608.20 L637.05,608.20 L637.35,608.20 L637.65,608.20 L637.95,608.20 L638.25,608.20 L638.55,608.20 L638.85,608.20 L639.15,608.20 L639.45,608.20 L639.75,608.20 L640.05,608.20 L640.35,608.20 L640.65,608.20 L640.95,608.20 L641.25,608.20 L641.55,608.20 L641.85,608.20 L642.15,608.20 L642.45,608.20 L642.75,608.20 L643.05,608.20 L643.35,608.20 L643.65,608.20 L643.95,608.20 L644.25,608.20 L644.55,608.20 L644.85,608.20 L645.15,608.20 L645.45,608.20 L645.75,608.20 L646.05,608.20 L646.35,608.20 L646.65,608.20 L646.95,608.20 L647.25,608.20 L647.55,608.20 L647.85,608.20 L648.15,608.20 L648.45,608.20 L648.75,608.20 L649.05,608.20 L649.35,608.20 L649.65,608.20 L649.95,608.20 L650.25,608.20 L650.55,608.20 L650.85,608.20 L651.15,608.20 L651.45,608.20 L651.75,608.20 L652.05,608.20 L652.35,608.20 L652.65,608.20 L652.95,608.20 L653.25,608.20 L653.55,608.20 L653.85,608.20 L654.15,608.20 L654.45,608.20 L654.75,608.20 L655.05,608.20 L655.35,608.20 L655.65,608.20 L655.95,608.20 L656.25,608.20 L656.55,608.20 L656.85,608.20 L657.15,608.20 L657.45,608.20 L657.75,608.20 L658.05,608.20 L658.35,608.20 L658.65,608.20 L658.95,608.20 L659.25,608.20 L659.55,608.20 L659.85,608.20 L660.15,608.20 L660.45,608.20 L660.75,608.20 L661.05,608.20 L661.35,608.20 L661.65,608.20 L661.95,608.20 L662.25,608.20 L662.55,608.20 L662.85,608.20 L663.15,608.20 L663.45,608.20 L663.75,608.20 L664.05,608.20 L664.35,608.20 L664.65,608.20 L664.95,608.20 L665.25,608.20 L665.55,608.20 L665.85,608.20 L666.15,608.20 L666.45,608.20 L666.75,608.20 L667.05,608.20 L667.35,608.20 L667.65,608.20 L667.95,608.20 L668.25,608.20 L668.55,608.20 L668.85,608.20 L669.15,608.20 L669.45,608.20 L669.75,608.20 L670.05,608.20 L670.35,608.98 L670.65,611.25 L670.95,613.43 L671.25,615.53 L671.55,617.54 L671.85,619.48 L672.15,621.33 L672.45,623.12 L672.75,624.83 L673.05,626.47 L673.35,628.05 L673.65,629.57 L673.95,631.02 L674.25,632.42 L674.55,633.76 L674.85,635.05 L675.15,636.29 L675.45,637.48 L675.75,638.62 L676.05,639.71 L676.35,640.77 L676.65,641.78 L676.95,642.75 L677.25,643.68 L677.55,644.57 L677.85,645.43 L678.15,646.26 L678.45,647.05 L678.75,647.81 L679.05,648.54 L679.35,649.24 L679.65,649.92 L679.95,650.56 L680.25,651.18 L680.55,651.78 L680.85,652.35 L681.15,652.90 L681.45,653.43 L681.75,653.94 L682.05,654.43 L682.35,654.89 L682.65,655.34 L682.95,655.77 L683.25,656.19 L683.55,656.59 L683.85,656.97 L684.15,657.34 L684.45,657.69 L684.75,658.03 L685.05,658.35 L685.35,658.66 L685.65,658.96 L685.95,659.25 L686.25,659.53 L686.55,659.79 L686.85,660.05 L687.15,660.29 L687.45,660.52 L687.75,660.75 L688.05,660.97 L688.35,661.17 L688.65,661.37 L688.95,661.57 L689.25,661.75 L689.55,661.93 L689.85,662.10 L690.15,662.26 L690.45,662.42 L690.75,662.57 L691.05,662.71 L691.35,662.85 L691.65,662.98 L691.95,663.11 L692.25,663.23 L692.55,663.35 L692.85,663.46 L693.15,663.57 L693.45,663.68 L693.75,663.78 L694.05,663.87 L694.35,663.97 L694.65,664.05 L694.95,664.14 L695.25,664.22 L695.55,664.30 L695.85,664.38 L696.15,664.45 L696.45,664.52 L696.75,664.58 L697.05,664.65 L697.35,664.71 L697.65,664.77 L697.95,664.83 L698.25,664.88 L698.55,664.93 L698.85,664.98 L699.15,665.03 L699.45,665.08 L699.75,665.12 L700.05,665.17 L700.35,665.21 L700.65,665.25 L700.95,665.28 L701.25,665.32 L701.55,665.36 L701.85,665.39 L702.15,665.42 L702.45,665.45 L702.75,665.48 L703.05,665.51 L703.35,665.54 L703.65,665.56 L703.95,665.59 L704.25,665.61 L704.55,665.64 L704.85,665.66 L705.15,665.68 L705.45,665.70 L705.75,665.72 L706.05,665.74 L706.35,665.76 L706.65,665.78 L706.95,665.79 L707.25,665.81 L707.55,665.82 L707.85,665.84 L708.15,665.85 L708.45,665.87 L708.75,665.88 L709.05,665.89 L709.35,665.91 L709.65,665.92 L709.95,665.93 L710.25,665.94 L710.55,665.95 L710.85,665.96 L711.15,665.97 L711.45,665.98 L711.75,665.99 L712.05,666.00 L712.35,666.00 L712.65,666.01 L712.95,666.02 L713.25,666.03 L713.55,666.03 L713.85,666.04 L714.15,666.05 L714.45,666.05 L714.75,666.06 L715.05,666.06 L715.35,666.07 L715.65,666.07 L715.95,666.08 L716.25,666.08 L716.55,666.09 L716.85,666.09 L717.15,666.10 L717.45,666.10 L717.75,666.11 L718.05,666.11 L718.35,666.11 L718.65,666.12 L718.95,666.12 L719.25,666.12 L719.55,666.13 L719.85,666.13 L720.15,666.13 L720.45,666.13 L720.75,666.14 L721.05,666.14 L721.35,666.14 L721.65,666.14 L721.95,666.15 L722.25,666.15 L722.55,666.15 L722.85,666.15 L723.15,666.15 L723.45,666.16 L723.75,666.16 L724.05,666.16 L724.35,666.16 L724.65,666.16 L724.95,666.16 L725.25,666.17 L725.55,666.17 L725.85,666.17 L726.15,666.17 L726.45,666.17 L726.75,666.17 L727.05,666.17 L727.35,666.17 L727.65,666.18 L727.95,666.18 L728.25,666.18 L728.55,666.18 L728.85,666.18 L729.15,666.18 L729.45,666.18 L729.75,666.18 L730.05,666.18 L730.35,666.18 L730.65,666.18 L730.95,666.18 L731.25,666.18 L731.55,666.19 L731.85,666.19 L732.15,666.19 L732.45,666.19 L732.75,666.19 L733.05,666.19 L733.35,666.19 L733.65,666.19 L733.95,666.19 L734.25,666.19 L734.55,666.19 L734.85,666.19 L735.15,666.19 L735.45,666.19 L735.75,666.19 L736.05,666.19 L736.35,666.19 L736.65,666.19 L736.95,666.19 L737.25,666.19 L737.55,666.19 L737.85,666.19 L738.15,666.19 L738.45,666.19 L738.75,666.19 L739.05,666.19 L739.35,666.19 L739.65,666.20 L739.95,666.20 L740.25,666.20 L740.55,666.20 L740.85,666.20 L741.15,666.20 L741.45,666.20 L741.75,666.20 L742.05,666.20 L742.35,666.20 L742.65,666.20 L742.95,666.20 L743.25,666.20 L743.55,666.20 L743.85,666.20 L744.15,666.20 L744.45,666.20 L744.75,666.20 L745.05,666.20 L745.35,666.20 L745.65,666.20 L745.95,666.20 L746.25,666.20 L746.55,666.20 L746.85,666.20 L747.15,666.20 L747.45,666.20 L747.75,666.20 L748.05,666.20 L748.35,666.20 L748.65,666.20 L748.95,666.20 L749.25,666.20 L749.55,666.20 L749.85,666.20 L750.15,666.20 L750.45,666.20 L750.75,666.20 L751.05,666.20 L751.35,666.20 L751.65,666.20 L751.95,666.20 L752.25,666.20 L752.55,666.20 L752.85,666.20 L753.15,666.20 L753.45,666.20 L753.75,666.20 L754.05,666.20 L754.35,666.20 L754.65,666.20 L754.95,666.20 L755.25,666.20 L755.55,666.20 L755.85,666.20 L756.15,666.20 L756.45,666.20 L756.75,666.20 L757.05,666.20 L757.35,666.20 L757.65,666.20 L757.95,666.20 L758.25,666.20 L758.55,666.20 L758.85,666.20 L759.15,666.20 L759.45,666.20 L759.75,666.20 L760.05,666.20 L760.35,666.20 L760.65,666.20 L760.95,666.20 L761.25,666.20 L761.55,666.20 L761.85,666.20 L762.15,666.20 L762.45,666.20 L762.75,666.20 L763.05,666.20 L763.35,666.20 L763.65,666.20 L763.95,666.20 L764.25,666.20 L764.55,666.20 L764.85,666.20 L765.15,666.20 L765.45,666.20 L765.75,666.20 L766.05,666.20 L766.35,666.20 L766.65,666.20 L766.95,666.20 L767.25,666.20 L767.55,666.20 L767.85,666.20 L768.15,666.20 L768.45,666.20 L768.75,666.20 L769.05,666.20 L769.35,666.20 L769.65,666.20 L769.95,666.20 L770.25,666.20 L770.55,666.20 L770.85,666.20 L771.15,666.20 L771.45,666.20 L771.75,666.20 L772.05,666.20 L772.35,666.20 L772.65,666.20 L772.95,666.20 L773.25,666.20 L773.55,666.20 L773.85,666.20 L774.15,666.20 L774.45,666.20 L774.75,666.20 L775.05,666.20 L775.35,666.20 L775.65,666.20 L775.95,666.20 L776.25,666.20 L776.55,666.20 L776.85,666.20 L777.15,666.20 L777.45,666.20 L777.75,666.20 L778.05,666.20 L778.35,666.20 L778.65,666.20 L778.95,666.20 L779.25,666.20 L779.55,666.20 L779.85,666.20 L780.15,666.20 L780.45,666.20 L780.75,666.20 L781.05,666.20 L781.35,666.20 L781.65,666.20 L781.95,666.20 L782.25,666.20 L782.55,666.20 L782.85,666.20 L783.15,666.20 L783.45,666.20 L783.75,666.20 L784.05,666.20 L784.35,666.20 L784.65,666.20 L784.95,666.20 L785.25,666.20 L785.55,666.20 L785.85,666.20 L786.15,666.20 L786.45,666.20 L786.75,666.20 L787.05,666.20 L787.35,668.20 L787.65,670.88 L787.95,673.27 L788.25,675.40 L788.55,677.33 L788.85,679.10 L789.15,680.72 L789.45,682.22 L789.75,683.62 L790.05,684.94 L790.35,686.18 L790.65,687.35 L790.95,688.46 L791.25,689.52 L791.55,690.53 L791.85,691.49 L792.15,692.41 L792.45,693.30 L792.75,694.14 L793.05,694.95 L793.35,695.74 L793.65,696.49 L793.95,697.21 L794.25,697.90 L794.55,698.57 L794.85,699.21 L795.15,699.83 L795.45,700.42 L795.75,700.99 L796.05,701.55 L796.35,702.08 L796.65,702.59 L796.95,703.08 L797.25,703.55 L797.55,704.01 L797.85,704.45 L798.15,704.87 L798.45,705.28 L798.75,705.68 L799.05,706.05 L799.35,706.42 L799.65,706.77 L799.95,707.11 L800.25,707.43 L800.55,707.75 L800.85,708.05 L801.15,708.34 L801.45,708.62 L801.75,708.89 L802.05,709.15 L802.35,709.40 L802.65,709.65 L802.95,709.88 L803.25,710.10 L803.55,710.32 L803.85,710.53 L804.15,710.73 L804.45,710.92 L804.75,711.11 L805.05,711.29 L805.35,711.46 L805.65,711.62 L805.95,711.79 L806.25,711.94 L806.55,712.09 L806.85,712.23 L807.15,712.37 L807.45,712.50 L807.75,712.63 L808.05,712.75 L808.35,712.87 L808.65,712.99 L808.95,713.10 L809.25,713.20 L809.55,713.31 L809.85,713.41 L810.15,713.50 L810.45,713.59 L810.75,713.68 L811.05,713.77 L811.35,713.85 L811.65,713.93 L811.95,714.00 L812.25,714.08 L812.55,714.15 L812.85,714.22 L813.15,714.28 L813.45,714.35 L813.75,714.41 L814.05,714.47 L814.35,714.52 L814.65,714.58 L814.95,714.63 L815.25,714.68 L815.55,714.73 L815.85,714.78 L816.15,714.82 L816.45,714.87 L816.75,714.91 L817.05,714.95 L817.35,714.99 L817.65,715.03 L817.95,715.06 L818.25,715.10 L818.55,715.13 L818.85,715.16 L819.15,715.19 L819.45,715.23 L819.75,715.25 L820.05,715.28 L820.35,715.31 L820.65,715.34 L820.95,715.36 L821.25,715.39 L821.55,715.41 L821.85,715.43 L822.15,715.45 L822.45,715.48 L822.75,715.50 L823.05,715.52 L823.35,715.53 L823.65,715.55 L823.95,715.57 L824.25,715.59 L824.55,715.60 L824.85,715.62 L825.15,715.64 L825.45,715.65 L825.75,715.66 L826.05,715.68 L826.35,715.69 L826.65,715.70 L826.95,715.72 L827.25,715.73 L827.55,715.74 L827.85,715.75 L828.15,715.76 L828.45,715.77 L828.75,715.78 L829.05,715.79 L829.35,715.80 L829.65,715.81 L829.95,715.82 L830.25,715.83 L830.55,715.84 L830.85,715.85 L831.15,715.85 L831.45,715.86 L831.75,715.87 L832.05,715.87 L832.35,715.88 L832.65,715.89 L832.95,715.89 L833.25,715.90 L833.55,715.91 L833.85,715.91 L834.15,715.92 L834.45,715.92 L834.75,715.93 L835.05,715.93 L835.35,715.94 L835.65,715.94 L835.95,715.95 L836.25,715.95 L836.55,715.96 L836.85,715.96 L837.15,715.97 L837.45,715.97 L837.75,715.97 L838.05,715.98 L838.35,715.98 L838.65,715.98 L838.95,715.99 L839.25,715.99 L839.55,715.99 L839.85,716.00 L840.15,716.00 L840.45,716.00 L840.75,716.01 L841.05,716.01 L841.35,716.01 L841.65,716.02 L841.95,716.02 L842.25,716.02 L842.55,716.02 L842.85,716.03 L843.15,716.03 L843.45,716.03 L843.75,716.03 L844.05,716.03 L844.35,716.04 L844.65,716.04 L844.95,716.04 L845.25,716.04 L845.55,716.05 L845.85,716.05 L846.15,716.05 L846.45,716.05 L846.75,716.05 L847.05,716.05 L847.35,716.06 L847.65,716.06 L847.95,716.06 L848.25,716.06 L848.55,716.06 L848.85,716.07 L849.15,716.07 L849.45,716.07 L849.75,716.07 L850.05,716.07 L850.35,716.07 L850.65,716.07 L850.95,716.08 L851.25,716.08 L851.55,716.08 L851.85,716.08 L852.15,716.08 L852.45,716.08 L852.75,716.08 L853.05,716.09 L853.35,716.09 L853.65,716.09 L853.95,716.09 L854.25,716.09 L854.55,716.09 L854.85,716.09 L855.15,716.09 L855.45,716.10 L855.75,716.10 L856.05,716.10 L856.35,716.10 L856.65,716.10 L856.95,716.10 L857.25,716.10 L857.55,716.10 L857.85,716.11 L858.15,716.11 L858.45,716.11 L858.75,716.11 L859.05,716.11 L859.35,716.11 L859.65,716.11 L859.95,716.11 L860.25,716.11 L860.55,716.12 L860.85,716.12 L861.15,716.12 L861.45,716.12 L861.75,716.12 L862.05,716.12 L862.35,716.12 L862.65,716.12 L862.95,716.12 L863.25,716.12 L863.55,716.13 L863.85,716.13 L864.15,716.13 L864.45,716.13 L864.75,716.13 L865.05,716.13 L865.35,716.13 L865.65,716.13 L865.95,716.13 L866.25,716.13 L866.55,716.14 L866.85,716.14 L867.15,716.14 L867.45,716.14 L867.75,716.14 L868.05,716.14 L868.35,716.14 L868.65,716.14 L868.95,716.14 L869.25,716.14 L869.55,716.15 L869.85,716.15 L870.15,716.15 L870.45,716.15 L870.75,716.15 L871.05,716.15 L871.35,716.15 L871.65,716.15 L871.95,716.15 L872.25,716.15 L872.55,716.15 L872.85,716.16 L873.15,716.16 L873.45,716.16 L873.75,716.16 L874.05,716.16 L874.35,716.16 L874.65,716.16 L874.95,716.16 L875.25,716.16 L875.55,716.16 L875.85,716.16 L876.15,716.17 L876.45,716.17 L876.75,716.17 L877.05,716.17 L877.35,716.17 L877.65,716.17 L877.95,716.17 L878.25,716.17 L878.55,716.17 L878.85,716.17 L879.15,716.18 L879.45,716.18 L879.75,716.18 L880.05,716.18 L880.35,716.18 L880.65,716.18 L880.95,716.18 L881.25,716.18 L881.55,716.18 L881.85,716.18 L882.15,716.18 L882.45,716.19 L882.75,716.19 L883.05,716.19 L883.35,716.19 L883.65,716.19 L883.95,716.19 L884.25,716.19 L884.55,716.19 L884.85,716.19 L885.15,716.19 L885.45,716.19 L885.75,716.20 L886.05,716.20 L886.35,716.20 L886.65,716.20 L886.95,716.20 L887.25,716.20 L887.55,716.20 L887.85,716.20 L888.15,716.20 L888.45,716.20 L888.75,716.20 L889.05,716.20 L889.35,716.21 L889.65,716.21 L889.95,716.21 L890.25,716.21 L890.55,716.21 L890.85,716.21 L891.15,716.21 L891.45,716.21 L891.75,716.21 L892.05,716.21 L892.35,716.21 L892.65,716.22 L892.95,716.22 L893.25,716.22 L893.55,716.22 L893.85,716.22 L894.15,716.22 L894.45,716.22 L894.75,716.22 L895.05,716.22 L895.35,716.22 L895.65,716.22 L895.95,716.23 L896.25,716.23 L896.55,716.23 L896.85,716.23 L897.15,716.23 L897.45,716.23 L897.75,716.23 L898.05,716.23 L898.35,716.23 L898.65,716.23 L898.95,716.23 L899.25,716.24 L899.55,716.24 L899.85,716.24 L900.15,716.24 L900.45,716.24 L900.75,716.24 L901.05,716.24 L901.35,716.24 L901.65,716.24 L901.95,716.24 L902.25,716.24 L902.55,716.25 L902.85,716.25 L903.15,716.25 L903.45,716.25 L903.75,716.25 L904.05,716.25 L904.35,716.54 L904.65,716.81 L904.95,717.08 L905.25,717.34 L905.55,717.58 L905.85,717.82 L906.15,718.06 L906.45,718.28 L906.75,718.49 L907.05,718.70 L907.35,718.90 L907.65,719.09 L907.95,719.28 L908.25,719.46 L908.55,719.63 L908.85,719.80 L909.15,719.96 L909.45,720.12 L909.75,720.27 L910.05,720.42 L910.35,720.56 L910.65,720.69 L910.95,720.83 L911.25,720.95 L911.55,721.08 L911.85,721.19 L912.15,721.31 L912.45,721.42 L912.75,721.53 L913.05,721.63 L913.35,721.73 L913.65,721.83 L913.95,721.92 L914.25,722.01 L914.55,722.10 L914.85,722.18 L915.15,722.27 L915.45,722.35 L915.75,722.42 L916.05,722.50 L916.35,722.57 L916.65,722.64 L916.95,722.71 L917.25,722.77 L917.55,722.84 L917.85,722.90 L918.15,722.96 L918.45,723.01 L918.75,723.07 L919.05,723.12 L919.35,723.18 L919.65,723.23 L919.95,723.28 L920.25,723.33 L920.55,723.37 L920.85,723.42 L921.15,723.46 L921.45,723.51 L921.75,723.55 L922.05,723.59 L922.35,723.63 L922.65,723.67 L922.95,723.71 L923.25,723.74 L923.55,723.78 L923.85,723.81 L924.15,723.85 L924.45,723.88 L924.75,723.91 L925.05,723.94 L925.35,723.97 L925.65,724.00 L925.95,724.03 L926.25,724.06 L926.55,724.09 L926.85,724.11 L927.15,724.14 L927.45,724.17 L927.75,724.19 L928.05,724.22 L928.35,724.24 L928.65,724.26 L928.95,724.29 L929.25,724.31 L929.55,724.33 L929.85,724.35 L930.15,724.38 L930.45,724.40 L930.75,724.42 L931.05,724.44 L931.35,724.46 L931.65,724.48 L931.95,724.50 L932.25,724.52 L932.55,724.53 L932.85,724.55 L933.15,724.57 L933.45,724.59 L933.75,724.61 L934.05,724.62 L934.35,724.64 L934.65,724.66 L934.95,724.67 L935.25,724.69 L935.55,724.71 L935.85,724.72 L936.15,724.74 L936.45,724.75 L936.75,724.77 L937.05,724.78 L937.35,724.80 L937.65,724.81 L937.95,724.83 L938.25,724.84 L938.55,724.86 L938.85,724.87 L939.15,724.89 L939.45,724.90 L939.75,724.91 L940.05,724.93 L940.35,724.94 L940.65,724.95 L940.95,724.97 L941.25,724.98 L941.55,724.99 L941.85,725.01 L942.15,725.02 L942.45,725.03 L942.75,725.05 L943.05,725.06 L943.35,725.07 L943.65,725.08 L943.95,725.10 L944.25,725.11 L944.55,725.12 L944.85,725.13 L945.15,725.14 L945.45,725.16 L945.75,725.17 L946.05,725.18 L946.35,725.19 L946.65,725.20 L946.95,725.22 L947.25,725.23 L947.55,725.24 L947.85,725.25 L948.15,725.26 L948.45,725.27 L948.75,725.29 L949.05,725.30 L949.35,725.31 L949.65,725.32 L949.95,725.33 L950.25,725.34 L950.55,725.36 L950.85,725.37 L951.15,725.38 L951.45,725.39 L951.75,725.40 L952.05,725.41 L952.35,725.42 L952.65,725.43 L952.95,725.44 L953.25,725.46 L953.55,725.47 L953.85,725.48 L954.15,725.49 L954.45,725.50 L954.75,725.51 L955.05,725.52 L955.35,725.53 L955.65,725.54 L955.95,725.56 L956.25,725.57 L956.55,725.58 L956.85,725.59 L957.15,725.60 L957.45,725.61 L957.75,725.62 L958.05,725.63 L958.35,725.64 L958.65,725.65 L958.95,725.66 L959.25,725.67 L959.55,725.69 L959.85,725.70 L960.15,725.71 L960.45,725.72 L960.75,725.73 L961.05,725.74 L961.35,725.75 L961.65,725.76 L961.95,725.77 L962.25,725.78 L962.55,725.79 L962.85,725.80 L963.15,725.81 L963.45,725.82 L963.75,725.84 L964.05,725.85 L964.35,725.86 L964.65,725.87 L964.95,725.88 L965.25,725.89 L965.55,725.90 L965.85,725.91 L966.15,725.92 L966.45,725.93 L966.75,725.94 L967.05,725.95 L967.35,725.96 L967.65,725.97 L967.95,725.98 L968.25,725.99 L968.55,726.01 L968.85,726.02 L969.15,726.03 L969.45,726.04 L969.75,726.05 L970.05,726.06 L970.35,726.07 L970.65,726.08 L970.95,726.09 L971.25,726.10 L971.55,726.11 L971.85,726.12 L972.15,726.13 L972.45,726.14 L972.75,726.15 L973.05,726.16 L973.35,726.17 L973.65,726.18 L973.95,726.20 L974.25,726.21 L974.55,726.22 L974.85,726.23 L975.15,726.24 L975.45,726.25 L975.75,726.26 L976.05,726.27 L976.35,726.28 L976.65,726.29 L976.95,726.30 L977.25,726.31 L977.55,726.32 L977.85,726.33 L978.15,726.34 L978.45,726.35 L978.75,726.36 L979.05,726.37 L979.35,726.38 L979.65,726.40 L979.95,726.41 L980.25,726.42 L980.55,726.43 L980.85,726.44 L981.15,726.45 L981.45,726.46 L981.75,726.47 L982.05,726.48 L982.35,726.49 L982.65,726.50 L982.95,726.51 L983.25,726.52 L983.55,726.53 L983.85,726.54 L984.15,726.55 L984.45,726.56 L984.75,726.57 L985.05,726.58 L985.35,726.60 L985.65,726.61 L985.95,726.62 L986.25,726.63 L986.55,726.64 L986.85,726.65 L987.15,726.66 L987.45,726.67 L987.75,726.68 L988.05,726.69 L988.35,726.70 L988.65,726.71 L988.95,726.72 L989.25,726.73 L989.55,726.74 L989.85,726.75 L990.15,726.76 L990.45,726.77 L990.75,726.78 L991.05,726.79 L991.35,726.81 L991.65,726.82 L991.95,726.83 L992.25,726.84 L992.55,726.85 L992.85,726.86 L993.15,726.87 L993.45,726.88 L993.75,726.89 L994.05,726.90 L994.35,726.91 L994.65,726.92 L994.95,726.93 L995.25,726.94 L995.55,726.95 L995.85,726.96 L996.15,726.97 L996.45,726.98 L996.75,726.99 L997.05,727.00 L997.35,727.02 L997.65,727.03 L997.95,727.04 L998.25,727.05 L998.55,727.06 L998.85,727.07 L999.15,727.08 L999.45,727.09 L999.75,727.10 L1000.05,727.11 L1000.35,727.12 L1000.65,727.13 L1000.95,727.14 L1001.25,727.15 L1001.55,727.16 L1001.85,727.17 L1002.15,727.18 L1002.45,727.19 L1002.75,727.20 L1003.05,727.21 L1003.35,727.23 L1003.65,727.24 L1003.95,727.25 L1004.25,727.26 L1004.55,727.27 L1004.85,727.28 L1005.15,727.29 L1005.45,727.30 L1005.75,727.31 L1006.05,727.32 L1006.35,727.33 L1006.65,727.34 L1006.95,727.35 L1007.25,727.36 L1007.55,727.37 L1007.85,727.38 L1008.15,727.39 L1008.45,727.40 L1008.75,727.41 L1009.05,727.42 L1009.35,727.44 L1009.65,727.45 L1009.95,727.46 L1010.25,727.47 L1010.55,727.48 L1010.85,727.49 L1011.15,727.50 L1011.45,727.51 L1011.75,727.52 L1012.05,727.53 L1012.35,727.54 L1012.65,727.55 L1012.95,727.56 L1013.25,727.57 L1013.55,727.58 L1013.85,727.59 L1014.15,727.60 L1014.45,727.61 L1014.75,727.62 L1015.05,727.63 L1015.35,727.65 L1015.65,727.66 L1015.95,727.67 L1016.25,727.68 L1016.55,727.69 L1016.85,727.70 L1017.15,727.71 L1017.45,727.72 L1017.75,727.73 L1018.05,727.74 L1018.35,727.75 L1018.65,727.76 L1018.95,727.77 L1019.25,727.78 L1019.55,727.79 L1019.85,727.80 L1020.15,727.81 L1020.45,727.82 L1020.75,727.83 L1021.05,728.20 L1021.35,728.51 L1021.65,728.80 L1021.95,729.09 L1022.25,729.36 L1022.55,729.62 L1022.85,729.88 L1023.15,730.12 L1023.45,730.36 L1023.75,730.59 L1024.05,730.81 L1024.35,731.03 L1024.65,731.23 L1024.95,731.43 L1025.25,731.63 L1025.55,731.81 L1025.85,731.99 L1026.15,732.17 L1026.45,732.34 L1026.75,732.50 L1027.05,732.66 L1027.35,732.81 L1027.65,732.96 L1027.95,733.10 L1028.25,733.24 L1028.55,733.37 L1028.85,733.50 L1029.15,733.62 L1029.45,733.75 L1029.75,733.86 L1030.05,733.98 L1030.35,734.09 L1030.65,734.19 L1030.95,734.30 L1031.25,734.40 L1031.55,734.49 L1031.85,734.59 L1032.15,734.68 L1032.45,734.77 L1032.75,734.86 L1033.05,734.94 L1033.35,735.02 L1033.65,735.10 L1033.95,735.18 L1034.25,735.25 L1034.55,735.32 L1034.85,735.39 L1035.15,735.46 L1035.45,735.53 L1035.75,735.59 L1036.05,735.66 L1036.35,735.72 L1036.65,735.78 L1036.95,735.84 L1037.25,735.89 L1037.55,735.95 L1037.85,736.00 L1038.15,736.06 L1038.45,736.11 L1038.75,736.16 L1039.05,736.21 L1039.35,736.26 L1039.65,736.31 L1039.95,736.35 L1040.25,736.40 L1040.55,736.44 L1040.85,736.49 L1041.15,736.53 L1041.45,736.57 L1041.75,736.61 L1042.05,736.65 L1042.35,736.69 L1042.65,736.73 L1042.95,736.77 L1043.25,736.80 L1043.55,736.84 L1043.85,736.88 L1044.15,736.91 L1044.45,736.95 L1044.75,736.98 L1045.05,737.02 L1045.35,737.05 L1045.65,737.08 L1045.95,737.12 L1046.25,737.15 L1046.55,737.18 L1046.85,737.21 L1047.15,737.24 L1047.45,737.27 L1047.75,737.31 L1048.05,737.34 L1048.35,737.37 L1048.65,737.39 L1048.95,737.42 L1049.25,737.45 L1049.55,737.48 L1049.85,737.51 L1050.15,737.54 L1050.45,737.57 L1050.75,737.59 L1051.05,737.62 L1051.35,737.65 L1051.65,737.68 L1051.95,737.70 L1052.25,737.73 L1052.55,737.76 L1052.85,737.78 L1053.15,737.81 L1053.45,737.84 L1053.75,737.86 L1054.05,737.89 L1054.35,737.92 L1054.65,737.94 L1054.95,737.97 L1055.25,737.99 L1055.55,738.02 L1055.85,738.04 L1056.15,738.07 L1056.45,738.09 L1056.75,738.12 L1057.05,738.14 L1057.35,738.17 L1057.65,738.20 L1057.95,738.22 L1058.25,738.25 L1058.55,738.27 L1058.85,738.30 L1059.15,738.32 L1059.45,738.35 L1059.75,738.37 L1060.05,738.40 L1060.35,738.42 L1060.65,738.45 L1060.95,738.47 L1061.25,738.49 L1061.55,738.52 L1061.85,738.54 L1062.15,738.57 L1062.45,738.59 L1062.75,738.62 L1063.05,738.64 L1063.35,738.67 L1063.65,738.69 L1063.95,738.72 L1064.25,738.74 L1064.55,738.77 L1064.85,738.79 L1065.15,738.82 L1065.45,738.84 L1065.75,738.87 L1066.05,738.89 L1066.35,738.92 L1066.65,738.94 L1066.95,738.97 L1067.25,739.00 L1067.55,739.02 L1067.85,739.05 L1068.15,739.07 L1068.45,739.10 L1068.75,739.12 L1069.05,739.15 L1069.35,739.17 L1069.65,739.20 L1069.95,739.22 L1070.25,739.25 L1070.55,739.28 L1070.85,739.30 L1071.15,739.33 L1071.45,739.35 L1071.75,739.38 L1072.05,739.40 L1072.35,739.43 L1072.65,739.46 L1072.95,739.48 L1073.25,739.51 L1073.55,739.53 L1073.85,739.56 L1074.15,739.59 L1074.45,739.61 L1074.75,739.64 L1075.05,739.67 L1075.35,739.69 L1075.65,739.72 L1075.95,739.75 L1076.25,739.77 L1076.55,739.80 L1076.85,739.83 L1077.15,739.85 L1077.45,739.88 L1077.75,739.91 L1078.05,739.93 L1078.35,739.96 L1078.65,739.99 L1078.95,740.02 L1079.25,740.04 L1079.55,740.07 L1079.85,740.10 L1080.15,740.13 L1080.45,740.15 L1080.75,740.18 L1081.05,740.21 L1081.35,740.24 L1081.65,740.26 L1081.95,740.29 L1082.25,740.32 L1082.55,740.35 L1082.85,740.38 L1083.15,740.40 L1083.45,740.43 L1083.75,740.46 L1084.05,740.49 L1084.35,740.52 L1084.65,740.55 L1084.95,740.57 L1085.25,740.60 L1085.55,740.63 L1085.85,740.66 L1086.15,740.69 L1086.45,740.72 L1086.75,740.75 L1087.05,740.78 L1087.35,740.81 L1087.65,740.83 L1087.95,740.86 L1088.25,740.89 L1088.55,740.92 L1088.85,740.95 L1089.15,740.98 L1089.45,741.01 L1089.75,741.04 L1090.05,741.07 L1090.35,741.10 L1090.65,741.13 L1090.95,741.16 L1091.25,741.19 L1091.55,741.22 L1091.85,741.25 L1092.15,741.28 L1092.45,741.31 L1092.75,741.34 L1093.05,741.37 L1093.35,741.40 L1093.65,741.43 L1093.95,741.46 L1094.25,741.49 L1094.55,741.52 L1094.85,741.55 L1095.15,741.59 L1095.45,741.62 L1095.75,741.65 L1096.05,741.68 L1096.35,741.71 L1096.65,741.74 L1096.95,741.77 L1097.25,741.80 L1097.55,741.83 L1097.85,741.87 L1098.15,741.90 L1098.45,741.93 L1098.75,741.96 L1099.05,741.99 L1099.35,742.02 L1099.65,742.06 L1099.95,742.09 L1100.25,742.12 L1100.55,742.15 L1100.85,742.18 L1101.15,742.22 L1101.45,742.25 L1101.75,742.28 L1102.05,742.31 L1102.35,742.35 L1102.65,742.38 L1102.95,742.41 L1103.25,742.44 L1103.55,742.48 L1103.85,742.51 L1104.15,742.54 L1104.45,742.58 L1104.75,742.61 L1105.05,742.64 L1105.35,742.68 L1105.65,742.71 L1105.95,742.74 L1106.25,742.78 L1106.55,742.81 L1106.85,742.84 L1107.15,742.88 L1107.45,742.91 L1107.75,742.94 L1108.05,742.98 L1108.35,743.01 L1108.65,743.05 L1108.95,743.08 L1109.25,743.11 L1109.55,743.15 L1109.85,743.18 L1110.15,743.22 L1110.45,743.25 L1110.75,743.29 L1111.05,743.32 L1111.35,743.36 L1111.65,743.39 L1111.95,743.42 L1112.25,743.46 L1112.55,743.49 L1112.85,743.53 L1113.15,743.56 L1113.45,743.60 L1113.75,743.63 L1114.05,743.67 L1114.35,743.71 L1114.65,743.74 L1114.95,743.78 L1115.25,743.81 L1115.55,743.85 L1115.85,743.88 L1116.15,743.92 L1116.45,743.95 L1116.75,743.99 L1117.05,744.03 L1117.35,744.06 L1117.65,744.10 L1117.95,744.13 L1118.25,744.17 L1118.55,744.21 L1118.85,744.24 L1119.15,744.28 L1119.45,744.32 L1119.75,744.35 L1120.05,744.39 L1120.35,744.43 L1120.65,744.46 L1120.95,744.50 L1121.25,744.54 L1121.55,744.57 L1121.85,744.61 L1122.15,744.65 L1122.45,744.69 L1122.75,744.72 L1123.05,744.76 L1123.35,744.80 L1123.65,744.83 L1123.95,744.87 L1124.25,744.91 L1124.55,744.95 L1124.85,744.99 L1125.15,745.02 L1125.45,745.06 L1125.75,745.10 L1126.05,745.14 L1126.35,745.18 L1126.65,745.21 L1126.95,745.25 L1127.25,745.29 L1127.55,745.33 L1127.85,745.37 L1128.15,745.41 L1128.45,745.44 L1128.75,745.48 L1129.05,745.52 L1129.35,745.56 L1129.65,745.60 L1129.95,745.64 L1130.25,745.68 L1130.55,745.72 L1130.85,745.76 L1131.15,745.80 L1131.45,745.83 L1131.75,745.87 L1132.05,745.91 L1132.35,745.95 L1132.65,745.99 L1132.95,746.03 L1133.25,746.07 L1133.55,746.11 L1133.85,746.15 L1134.15,746.19 L1134.45,746.23 L1134.75,746.27 L1135.05,746.31 L1135.35,746.35 L1135.65,746.39 L1135.95,746.43 L1136.25,746.47 L1136.50,746.58 L1136.80,746.81 L1137.10,747.04 L1137.40,747.27 L1137.70,747.49 L1138.00,747.71 L1138.30,747.93 L1138.60,748.14 L1138.90,748.35 L1139.20,748.55 L1139.50,748.75 L1139.80,748.95 L1140.10,749.14 L1140.40,749.32 L1140.70,749.51 L1141.00,749.68 L1141.30,749.86 L1141.60,750.02 L1141.90,750.16 L1142.20,750.30 L1142.50,750.43 L1142.80,750.56 L1143.10,750.69 L1143.40,750.82 L1143.70,750.95 L1144.00,751.09 L1144.30,751.25 L1144.60,751.41 L1144.90,751.60 L1145.20,751.80 L1145.50,752.04 L1145.80,752.33 L1146.10,752.66 L1146.40,753.02 L1146.70,753.41 L1147.00,753.82 L1147.30,754.24 L1147.60,754.67 L1147.90,755.10 L1148.20,755.53 L1148.50,755.93 L1148.80,756.32 L1149.10,756.68 L1149.40,757.01 L1149.70,757.35 L1150.00,757.72 L1150.30,758.10 L1150.60,758.46 L1150.90,758.81 L1151.20,759.12 L1151.50,759.37 L1151.80,759.57 L1152.10,759.68 L1152.40,759.70 L1152.70,759.67 L1153.00,759.60 L1153.30,759.51 L1153.60,759.39 L1153.90,759.26 L1154.20,759.12 L1154.50,758.98 L1154.80,758.84 L1155.10,758.71 L1155.40,758.59 L1155.70,758.50 L1156.00,758.43 L1156.30,758.40 L1156.60,758.41 L1156.90,758.43 L1157.20,758.48 L1157.50,758.56 L1157.80,758.65 L1158.10,758.76 L1158.40,758.89 L1158.70,759.04 L1159.00,759.20 L1159.30,759.38 L1159.60,759.58 L1159.90,759.93 L1160.20,760.47 L1160.50,761.14 L1160.80,761.93 L1161.10,762.79 L1161.40,763.69 L1161.70,764.61 L1162.00,765.50 L1162.30,766.48 L1162.60,767.62 L1162.90,768.84 L1163.20,770.05 L1163.50,771.19 L1163.80,772.17 L1164.10,772.93 L1164.40,773.65 L1164.70,774.35 L1165.00,774.99 L1165.30,775.54 L1165.60,775.95 L1165.90,776.17 L1166.20,776.17 L1166.50,775.93 L1166.80,775.49 L1167.10,774.92 L1167.40,774.27 L1167.70,773.58 L1168.00,772.91 L1168.30,772.25 L1168.60,771.45 L1168.90,770.58 L1169.20,769.68 L1169.50,768.84 L1169.80,768.13 L1170.10,767.60 L1170.40,767.19 L1170.70,766.80 L1171.00,766.44 L1171.30,766.14 L1171.60,765.91 L1171.90,765.78 L1172.20,765.77 L1172.50,766.04 L1172.80,766.58 L1173.10,767.33 L1173.40,768.25 L1173.70,769.27 L1174.00,770.33 L1174.30,771.39 L1174.60,772.39 L1174.90,773.37 L1175.20,774.56 L1175.50,775.89 L1175.80,777.27 L1176.10,778.59 L1176.40,779.75 L1176.70,780.65 L1177.00,781.19 L1177.30,781.28 L1177.60,781.03 L1177.90,780.53 L1178.20,779.82 L1178.50,778.97 L1178.80,778.02 L1179.10,777.02 L1179.40,776.04 L1179.70,775.13 L1180.00,774.33 L1180.30,773.70 L1180.60,773.16 L1180.90,772.60 L1181.20,772.04 L1181.50,771.50 L1181.80,770.99 L1182.10,770.54 L1182.40,770.15 L1182.70,769.86 L1183.00,769.67 L1183.30,769.60 L1183.60,769.74 L1183.90,770.13 L1184.20,770.72 L1184.50,771.49 L1184.80,772.39 L1185.10,773.37 L1185.40,774.41 L1185.70,775.45 L1186.00,776.47 L1186.30,777.41 L1186.60,778.27 L1186.90,779.15 L1187.20,780.05 L1187.50,780.96 L1187.80,781.89 L1188.10,782.84 L1188.40,783.80 L1188.70,784.77 L1189.00,785.77 L1189.30,786.15 L1189.60,785.91 L1189.90,785.47 L1190.20,784.85 L1190.50,784.07 L1190.80,783.14 L1191.10,782.08 L1191.40,780.94 L1191.70,779.73 L1192.00,778.48 L1192.30,777.23 L1192.60,776.02 L1192.90,774.86 L1193.20,773.80 L1193.50,772.85 L1193.80,772.05 L1194.10,771.41 L1194.40,770.95 L1194.70,770.67 L1195.00,770.60 L1195.30,770.73 L1195.60,771.05 L1195.90,771.56 L1196.20,772.24 L1196.50,773.07 L1196.80,774.04 L1197.10,775.12 L1197.40,776.28 L1197.70,777.49 L1198.00,778.71 L1198.30,779.93 L1198.60,781.10 L1198.90,782.19 L1199.20,783.18 L1199.50,784.04 L1199.80,784.75 L1200.10,785.30 L1200.40,785.66 L1200.70,785.82 L1201.00,785.80 L1201.30,785.57 L1201.60,785.16 L1201.90,784.56 L1202.20,783.81 L1202.50,782.91 L1202.80,781.89 L1203.10,780.77 L1203.40,779.59 L1203.70,778.38 L1204.00,777.16 L1204.30,775.97 L1204.60,774.83 L1204.90,773.79 L1205.20,772.85 L1205.50,772.06 L1205.80,771.42 L1206.10,770.96 L1206.40,770.68 L1206.70,770.60 L1207.00,770.71 L1207.30,771.01 L1207.60,771.50 L1207.90,772.15 L1208.20,772.96 L1208.50,773.90 L1208.80,774.94 L1209.10,776.07 L1209.40,777.24 L1209.70,778.44 L1210.00,779.63 L1210.30,780.77 L1210.60,781.85 L1210.90,782.82 L1211.20,783.67 L1211.50,784.38 L1211.80,784.92 L1212.10,785.28 L1212.40,785.46 L1212.70,785.44 L1213.00,785.23 L1213.30,784.84 L1213.60,784.27 L1213.90,783.54 L1214.20,782.67 L1214.50,781.69 L1214.80,780.60 L1215.10,779.45 L1215.40,778.27 L1215.70,777.08 L1216.00,775.91 L1216.30,774.80 L1216.60,773.77 L1216.90,772.86 L1217.20,772.07 L1217.50,771.44 L1217.80,770.98 L1218.10,770.69 L1218.40,770.60 L1218.70,770.69 L1219.00,770.98 L1219.30,771.44 L1219.60,772.06 L1219.90,772.84 L1220.20,773.75 L1220.50,774.76 L1220.80,775.86 L1221.10,777.00 L1221.40,778.17 L1221.70,779.33 L1222.00,780.45 L1222.30,781.50 L1222.60,782.46 L1222.90,783.30 L1223.20,784.00 L1223.50,784.54 L1223.80,784.90 L1224.10,785.09 L1224.40,785.08 L1224.70,784.89 L1225.00,784.52 L1225.30,783.98 L1225.60,783.28 L1225.90,782.44 L1226.20,781.48 L1226.50,780.43 L1226.80,779.31 L1227.10,778.16 L1227.40,777.00 L1227.70,775.86 L1228.00,774.77 L1228.30,773.76 L1228.60,772.86 L1228.90,772.08 L1229.20,771.46 L1229.50,770.99 L1229.80,770.71 L1230.10,770.60 L1230.40,770.68 L1230.70,770.94 L1231.00,771.38 L1231.30,771.98 L1231.60,772.73 L1231.90,773.61 L1232.20,774.59 L1232.50,775.66 L1232.80,776.77 L1233.10,777.91 L1233.40,779.04 L1233.70,780.13 L1234.00,781.17 L1234.30,782.11 L1234.60,782.93 L1234.90,783.62 L1235.20,784.16 L1235.50,784.53 L1235.80,784.72 L1236.10,784.73 L1236.40,784.55 L1236.70,784.20 L1237.00,783.68 L1237.30,783.01 L1237.60,782.20 L1237.90,781.27 L1238.20,780.25 L1238.50,779.17 L1238.80,778.04 L1239.10,776.91 L1239.40,775.80 L1239.70,774.73 L1240.00,773.74 L1240.30,772.85 L1240.60,772.09 L1240.90,771.47 L1241.20,771.01 L1241.50,770.72 L1241.80,770.60 L1242.10,770.67 L1242.40,770.91 L1242.70,771.33 L1243.00,771.90 L1243.30,772.62 L1243.60,773.47 L1243.90,774.42 L1244.20,775.46 L1244.50,776.54 L1244.80,777.65 L1245.10,778.75 L1245.40,779.82 L1245.70,780.83 L1246.00,781.75 L1246.30,782.57 L1246.60,783.25 L1246.90,783.78 L1247.20,784.15 L1247.50,784.35 L1247.80,784.37 L1248.10,784.21 L1248.40,783.88 L1248.70,783.38 L1249.00,782.74 L1249.30,781.96 L1249.60,781.06 L1249.90,780.07 L1250.20,779.02 L1250.50,777.92 L1250.80,776.82 L1251.10,775.73 L1251.40,774.69 L1251.70,773.72 L1252.00,772.85 L1252.30,772.10 L1252.60,771.48 L1252.90,771.02 L1253.20,770.73 L1253.50,770.60"/>
<path d="M1192.5,66.5 H1235.5"/>
</g>
<g stroke="#009e73" stroke-width="4">
<path d="M85.2,437 V906.5" stroke-width="4.2"/>
<path d="M85.0,437 L88.2,906.5"/>
<path d="M102.10,906.50 L102.19,904.25 L102.27,902.00 L102.36,899.75 L102.45,897.51 L102.53,895.26 L102.62,893.01 L102.70,890.76 L102.79,888.51 L102.88,886.26 L102.96,884.02 L103.05,881.77 L103.14,879.52 L103.22,877.27 L103.31,875.02 L103.39,872.77 L103.48,870.53 L103.57,868.28 L103.65,866.03 L103.74,863.78 L103.82,861.53 L103.91,859.28 L104.00,857.04 L104.08,854.79 L104.17,852.54 L104.25,850.29 L104.34,848.04 L104.43,845.79 L104.51,843.55 L104.60,841.30 L104.68,839.05 L104.77,836.80 L104.86,834.55 L104.94,832.30 L105.03,830.06 L105.12,827.81 L105.20,825.56 L105.29,823.31 L105.37,821.06 L105.46,818.81 L105.55,816.57 L105.63,814.32 L105.72,812.07 L105.80,809.82 L105.89,807.57 L105.97,805.32 L106.06,803.08 L106.15,800.83 L106.23,798.58 L106.32,796.33 L106.40,794.08 L106.49,791.83 L106.57,789.59 L106.66,787.34 L106.74,785.09 L106.83,782.84 L106.91,780.59 L107.00,778.34 L107.08,776.10 L107.17,773.85 L107.25,771.60 L107.34,769.35 L107.42,767.10 L107.51,764.85 L107.59,762.60 L107.67,760.36 L107.76,758.11 L107.84,755.86 L107.93,753.61 L108.01,751.36 L108.09,749.11 L108.18,746.87 L108.26,744.62 L108.34,742.37 L108.42,740.12 L108.51,737.87 L108.59,735.62 L108.67,733.37 L108.75,731.13 L108.84,728.88 L108.92,726.63 L109.00,724.38 L109.08,722.13 L109.16,719.88 L109.25,717.64 L109.33,715.39 L109.41,713.14 L109.49,710.89 L109.57,708.64 L109.65,706.39 L109.73,704.14 L109.82,701.90 L109.90,699.65 L109.98,697.40 L110.06,695.15 L110.14,692.90 L110.23,690.65 L110.31,688.40 L110.39,686.16 L110.47,683.91 L110.55,681.66 L110.63,679.41 L110.71,677.16 L110.79,674.91 L110.87,672.66 L110.95,670.42 L111.03,668.17 L111.11,665.92 L111.19,663.67 L111.27,661.42 L111.35,659.17 L111.43,656.92 L111.51,654.68 L111.59,652.43 L111.67,650.18 L111.75,647.93 L111.83,645.68 L111.91,643.43 L111.99,641.18 L112.07,638.94 L112.16,636.69 L112.24,634.44 L112.32,632.19 L112.41,629.94 L112.50,627.69 L112.58,625.45 L112.67,623.20 L112.76,620.95 L112.85,618.70 L112.94,616.45 L113.04,614.20 L113.13,611.96 L113.23,609.71 L113.33,607.46 L113.43,605.21 L113.53,602.97 L113.63,600.72 L113.74,598.47 L113.84,596.22 L113.95,593.98 L114.06,591.73 L114.16,589.48 L114.27,587.23 L114.38,584.99 L114.49,582.74 L114.60,580.49 L114.71,578.24 L114.82,576.00 L114.92,573.75 L115.03,571.50 L115.14,569.25 L115.24,567.01 L115.34,564.76 L115.45,562.51 L115.55,560.26 L115.64,558.02 L115.74,555.77 L115.84,553.52 L115.93,551.27 L116.03,549.02 L116.12,546.78 L116.21,544.53 L116.30,542.28 L116.40,540.03 L116.49,537.78 L116.58,535.53 L116.67,533.29 L116.76,531.04 L116.85,528.79 L116.94,526.54 L117.03,524.29 L117.12,522.05 L117.21,519.80 L117.31,517.55 L117.40,515.30 L117.49,513.05 L117.59,510.81 L117.68,508.56 L117.78,506.31 L117.88,504.06 L117.98,501.81 L118.08,499.57 L118.19,497.32 L118.29,495.07 L118.40,492.82 L118.50,490.58 L118.61,488.33 L118.72,486.08 L118.83,483.83 L118.94,481.59 L119.06,479.34 L119.17,477.09 L119.28,474.85 L119.40,472.60 L119.51,470.35 L119.63,468.10 L119.74,465.86 L119.86,463.61 L119.97,461.36 L120.09,459.12 L120.20,456.87 L120.32,454.62 L120.43,452.37 L120.54,450.13 L120.66,447.88 L120.77,445.63 L120.88,443.39 L120.99,441.14 L121.10,438.89 L121.20,436.64 L121.31,434.40 L121.42,432.15 L121.52,429.90 L121.63,427.65 L121.73,425.41 L121.84,423.16 L121.94,420.91 L122.05,418.66 L122.16,416.42 L122.27,414.17 L122.38,411.92 L122.49,409.67 L122.60,407.43 L122.71,405.18 L122.83,402.93 L122.95,400.69 L123.07,398.44 L123.19,396.19 L123.32,393.95 L123.45,391.70 L123.58,389.45 L123.72,387.21 L123.85,384.96 L123.99,382.72 L124.13,380.47 L124.27,378.22 L124.41,375.98 L124.56,373.73 L124.70,371.49 L124.85,369.24 L125.00,367.00 L125.16,364.75 L125.32,362.51 L125.48,360.27 L125.64,358.02 L125.80,355.78 L125.97,353.53 L126.14,351.29 L126.31,349.05 L126.48,346.80 L126.66,344.56 L126.84,342.32 L127.02,340.07 L127.20,337.83 L127.39,335.59 L127.58,333.35 L127.77,331.11 L127.97,328.86 L128.17,326.62 L128.38,324.38 L128.59,322.14 L128.81,319.90 L129.03,317.67 L129.27,315.43 L129.51,313.19 L129.76,310.96 L130.02,308.72 L130.29,306.49 L130.56,304.25 L130.84,302.02 L131.12,299.79 L131.41,297.56 L131.70,295.33 L131.99,293.09 L132.28,290.86 L132.56,288.63 L132.84,286.40 L133.12,284.17 L133.40,281.93 L133.67,279.70 L133.95,277.47 L134.23,275.23 L134.52,273.00 L134.81,270.77 L135.12,268.54 L135.44,266.32 L135.76,264.09 L136.10,261.86 L136.44,259.64 L136.79,257.42 L137.15,255.20 L137.51,252.98 L137.88,250.76 L138.26,248.54 L138.64,246.32 L139.02,244.10 L139.42,241.89 L139.82,239.68 L140.24,237.47 L140.67,235.26 L141.11,233.05 L141.57,230.85 L142.03,228.65 L142.51,226.45 L143.00,224.25 L143.52,222.06 L144.07,219.88 L144.64,217.71 L145.26,215.54 L145.90,213.39 L146.58,211.25 L147.29,209.11 L148.04,206.99 L148.84,204.89 L149.69,202.81 L150.61,200.77 L151.63,198.77 L152.74,196.82 L153.95,194.94 L155.24,193.10 L156.61,191.32 L158.04,189.59 L159.53,187.92 L161.08,186.30 L162.70,184.74 L164.37,183.25 L166.12,181.85 L167.94,180.55 L169.84,179.37 L171.81,178.33 L173.85,177.44 L175.96,176.72 L178.12,176.15 L180.31,175.70 L182.53,175.35 L184.76,175.07 L186.99,174.82 L189.23,174.60 L191.47,174.40 L193.71,174.23 L195.96,174.07 L198.20,173.93 L200.45,173.80 L202.65,173.70 L202.95,173.77 L203.25,173.95 L203.55,174.24 L203.85,174.62 L204.15,175.10 L204.45,175.68 L204.75,176.35 L205.05,177.11 L205.35,177.96 L205.65,178.89 L205.95,179.91 L206.25,181.01 L206.55,182.18 L206.85,183.43 L207.15,184.76 L207.45,186.15 L207.75,187.62 L208.05,189.15 L208.35,190.75 L208.65,192.42 L208.95,194.15 L209.25,195.93 L209.55,197.78 L209.85,199.68 L210.15,201.64 L210.45,203.66 L210.75,205.72 L211.05,207.84 L211.35,210.01 L211.65,212.22 L211.95,214.49 L212.25,216.80 L212.55,219.15 L212.85,221.54 L213.15,223.98 L213.45,226.46 L213.75,228.98 L214.05,231.54 L214.35,234.13 L214.65,236.76 L214.95,239.35 L215.25,241.88 L215.55,244.33 L215.85,246.71 L216.15,249.02 L216.45,251.28 L216.75,253.46 L217.05,255.59 L217.35,257.66 L217.65,259.67 L217.95,261.62 L218.25,263.52 L218.55,265.37 L218.85,267.17 L219.15,268.91 L219.45,270.61 L219.75,272.26 L220.05,273.86 L220.35,275.42 L220.65,276.93 L220.95,278.40 L221.25,279.84 L221.55,281.23 L221.85,282.58 L222.15,283.90 L222.45,285.17 L222.75,286.42 L223.05,287.62 L223.35,288.80 L223.65,289.94 L223.95,291.05 L224.25,292.13 L224.55,293.18 L224.85,294.19 L225.15,295.19 L225.45,296.15 L225.75,297.09 L226.05,298.00 L226.35,298.88 L226.65,299.74 L226.95,300.58 L227.25,301.39 L227.55,302.18 L227.85,302.95 L228.15,303.69 L228.45,304.42 L228.75,305.12 L229.05,305.81 L229.35,306.48 L229.65,307.12 L229.95,307.75 L230.25,308.37 L230.55,308.96 L230.85,309.54 L231.15,310.10 L231.45,310.65 L231.75,311.18 L232.05,311.70 L232.35,312.20 L232.65,312.69 L232.95,313.16 L233.25,313.63 L233.55,314.07 L233.85,314.51 L234.15,314.93 L234.45,315.35 L234.75,315.75 L235.05,316.14 L235.35,316.51 L235.65,316.88 L235.95,317.24 L236.25,317.59 L236.55,317.93 L236.85,318.25 L237.15,318.57 L237.45,318.88 L237.75,319.19 L238.05,319.48 L238.35,319.76 L238.65,320.04 L238.95,320.31 L239.25,320.57 L239.55,320.83 L239.85,321.08 L240.15,321.32 L240.45,321.55 L240.75,321.78 L241.05,322.00 L241.35,322.21 L241.65,322.42 L241.95,322.63 L242.25,322.82 L242.55,323.02 L242.85,323.20 L243.15,323.38 L243.45,323.56 L243.75,323.73 L244.05,323.90 L244.35,324.06 L244.65,324.22 L244.95,324.37 L245.25,324.52 L245.55,324.66 L245.85,324.80 L246.15,324.94 L246.45,325.07 L246.75,325.20 L247.05,325.33 L247.35,325.45 L247.65,325.57 L247.95,325.68 L248.25,325.80 L248.55,325.90 L248.85,326.01 L249.15,326.11 L249.45,326.21 L249.75,326.31 L250.05,326.41 L250.35,326.50 L250.65,326.59 L250.95,326.67 L251.25,326.76 L251.55,326.84 L251.85,326.92 L252.15,327.00 L252.45,327.07 L252.75,327.15 L253.05,327.22 L253.35,327.29 L253.65,327.35 L253.95,327.42 L254.25,327.48 L254.55,327.55 L254.85,327.61 L255.15,327.66 L255.45,327.72 L255.75,327.78 L256.05,327.83 L256.35,327.88 L256.65,327.93 L256.95,327.98 L257.25,328.03 L257.55,328.08 L257.85,328.12 L258.15,328.17 L258.45,328.21 L258.75,328.25 L259.05,328.29 L259.35,328.33 L259.65,328.37 L259.95,328.41 L260.25,328.44 L260.55,328.48 L260.85,328.51 L261.15,328.54 L261.45,328.58 L261.75,328.61 L262.05,328.64 L262.35,328.67 L262.65,328.70 L262.95,328.72 L263.25,328.75 L263.55,328.78 L263.85,328.80 L264.15,328.83 L264.45,328.85 L264.75,328.88 L265.05,328.90 L265.35,328.92 L265.65,328.94 L265.95,328.96 L266.25,328.99 L266.55,329.01 L266.85,329.02 L267.15,329.04 L267.45,329.06 L267.75,329.08 L268.05,329.10 L268.35,329.11 L268.65,329.13 L268.95,329.15 L269.25,329.16 L269.55,329.18 L269.85,329.19 L270.15,329.21 L270.45,329.22 L270.75,329.23 L271.05,329.25 L271.35,329.26 L271.65,329.27 L271.95,329.28 L272.25,329.29 L272.55,329.31 L272.85,329.32 L273.15,329.33 L273.45,329.34 L273.75,329.35 L274.05,329.36 L274.35,329.37 L274.65,329.38 L274.95,329.39 L275.25,329.39 L275.55,329.40 L275.85,329.41 L276.15,329.42 L276.45,329.43 L276.75,329.43 L277.05,329.44 L277.35,329.45 L277.65,329.46 L277.95,329.46 L278.25,329.47 L278.55,329.48 L278.85,329.48 L279.15,329.49 L279.45,329.49 L279.75,329.50 L280.05,329.51 L280.35,329.51 L280.65,329.52 L280.95,329.52 L281.25,329.53 L281.55,329.53 L281.85,329.54 L282.15,329.54 L282.45,329.54 L282.75,329.55 L283.05,329.55 L283.35,329.56 L283.65,329.56 L283.95,329.57 L284.25,329.57 L284.55,329.57 L284.85,329.58 L285.15,329.58 L285.45,329.58 L285.75,329.59 L286.05,329.59 L286.35,329.59 L286.65,329.60 L286.95,329.60 L287.25,329.60 L287.55,329.60 L287.85,329.61 L288.15,329.61 L288.45,329.61 L288.75,329.61 L289.05,329.62 L289.35,329.62 L289.65,329.62 L289.95,329.62 L290.25,329.63 L290.55,329.63 L290.85,329.63 L291.15,329.63 L291.45,329.63 L291.75,329.64 L292.05,329.64 L292.35,329.64 L292.65,329.64 L292.95,329.64 L293.25,329.64 L293.55,329.65 L293.85,329.65 L294.15,329.65 L294.45,329.65 L294.75,329.65 L295.05,329.65 L295.35,329.65 L295.65,329.66 L295.95,329.66 L296.25,329.66 L296.55,329.66 L296.85,329.66 L297.15,329.66 L297.45,329.66 L297.75,329.66 L298.05,329.66 L298.35,329.67 L298.65,329.67 L298.95,329.67 L299.25,329.67 L299.55,329.67 L299.85,329.67 L300.15,329.67 L300.45,329.67 L300.75,329.67 L301.05,329.67 L301.35,329.67 L301.65,329.67 L301.95,329.68 L302.25,329.68 L302.55,329.68 L302.85,329.68 L303.15,329.68 L303.45,329.68 L303.75,329.68 L304.05,329.68 L304.35,329.68 L304.65,329.68 L304.95,329.68 L305.25,329.68 L305.55,329.68 L305.85,329.68 L306.15,329.68 L306.45,329.68 L306.75,329.68 L307.05,329.68 L307.35,329.69 L307.65,329.69 L307.95,329.69 L308.25,329.69 L308.55,329.69 L308.85,329.69 L309.15,329.69 L309.45,329.69 L309.75,329.69 L310.05,329.69 L310.35,329.69 L310.65,329.69 L310.95,329.69 L311.25,329.69 L311.55,329.69 L311.85,329.69 L312.15,329.69 L312.45,329.69 L312.75,329.69 L313.05,329.69 L313.35,329.69 L313.65,329.69 L313.95,329.69 L314.25,329.69 L314.55,329.69 L314.85,329.69 L315.15,329.69 L315.45,329.69 L315.75,329.69 L316.05,329.69 L316.35,329.69 L316.65,329.69 L316.95,329.69 L317.25,329.69 L317.55,329.69 L317.85,329.69 L318.15,329.69 L318.45,329.69 L318.75,329.69 L319.05,329.70 L319.35,329.70 L319.65,329.71 L319.95,329.80 L320.25,329.98 L320.55,330.25 L320.85,330.61 L321.15,331.05 L321.45,331.56 L321.75,332.16 L322.05,332.83 L322.35,333.57 L322.65,334.38 L322.95,335.25 L323.25,336.20 L323.55,337.20 L323.85,338.27 L324.15,339.40 L324.45,340.58 L324.75,341.82 L325.05,343.12 L325.35,344.46 L325.65,345.86 L325.95,347.30 L326.25,348.80 L326.55,350.34 L326.85,351.92 L327.15,353.54 L327.45,355.21 L327.75,356.92 L328.05,358.67 L328.35,360.45 L328.65,362.27 L328.95,364.13 L329.25,366.02 L329.55,367.95 L329.85,369.90 L330.15,371.89 L330.45,373.91 L330.75,375.96 L331.05,378.03 L331.35,380.13 L331.65,382.25 L331.95,384.31 L332.25,386.31 L332.55,388.24 L332.85,390.11 L333.15,391.93 L333.45,393.68 L333.75,395.38 L334.05,397.03 L334.35,398.62 L334.65,400.16 L334.95,401.65 L335.25,403.10 L335.55,404.50 L335.85,405.85 L336.15,407.17 L336.45,408.44 L336.75,409.67 L337.05,410.86 L337.35,412.01 L337.65,413.13 L337.95,414.21 L338.25,415.26 L338.55,416.27 L338.85,417.25 L339.15,418.20 L339.45,419.13 L339.75,420.02 L340.05,420.88 L340.35,421.71 L340.65,422.52 L340.95,423.31 L341.25,424.07 L341.55,424.80 L341.85,425.51 L342.15,426.20 L342.45,426.87 L342.75,427.51 L343.05,428.14 L343.35,428.74 L343.65,429.33 L343.95,429.89 L344.25,430.44 L344.55,430.98 L344.85,431.49 L345.15,431.99 L345.45,432.47 L345.75,432.94 L346.05,433.39 L346.35,433.83 L346.65,434.26 L346.95,434.67 L347.25,435.06 L347.55,435.45 L347.85,435.82 L348.15,436.18 L348.45,436.53 L348.75,436.87 L349.05,437.20 L349.35,437.52 L349.65,437.82 L349.95,438.12 L350.25,438.41 L350.55,438.69 L350.85,438.96 L351.15,439.22 L351.45,439.47 L351.75,439.72 L352.05,439.96 L352.35,440.19 L352.65,440.41 L352.95,440.63 L353.25,440.83 L353.55,441.04 L353.85,441.23 L354.15,441.42 L354.45,441.60 L354.75,441.78 L355.05,441.95 L355.35,442.12 L355.65,442.28 L355.95,442.44 L356.25,442.59 L356.55,442.74 L356.85,442.88 L357.15,443.01 L357.45,443.15 L357.75,443.28 L358.05,443.40 L358.35,443.52 L358.65,443.64 L358.95,443.75 L359.25,443.86 L359.55,443.97 L359.85,444.07 L360.15,444.17 L360.45,444.26 L360.75,444.36 L361.05,444.45 L361.35,444.54 L361.65,444.62 L361.95,444.70 L362.25,444.78 L362.55,444.86 L362.85,444.93 L363.15,445.00 L363.45,445.07 L363.75,445.14 L364.05,445.21 L364.35,445.27 L364.65,445.33 L364.95,445.39 L365.25,445.45 L365.55,445.50 L365.85,445.56 L366.15,445.61 L366.45,445.66 L366.75,445.71 L367.05,445.76 L367.35,445.80 L367.65,445.85 L367.95,445.89 L368.25,445.93 L368.55,445.97 L368.85,446.01 L369.15,446.05 L369.45,446.08 L369.75,446.12 L370.05,446.15 L370.35,446.19 L370.65,446.22 L370.95,446.25 L371.25,446.28 L371.55,446.31 L371.85,446.34 L372.15,446.37 L372.45,446.39 L372.75,446.42 L373.05,446.44 L373.35,446.47 L373.65,446.49 L373.95,446.51 L374.25,446.53 L374.55,446.56 L374.85,446.58 L375.15,446.60 L375.45,446.61 L375.75,446.63 L376.05,446.65 L376.35,446.67 L376.65,446.69 L376.95,446.70 L377.25,446.72 L377.55,446.73 L377.85,446.75 L378.15,446.76 L378.45,446.78 L378.75,446.79 L379.05,446.80 L379.35,446.82 L379.65,446.83 L379.95,446.84 L380.25,446.85 L380.55,446.86 L380.85,446.87 L381.15,446.88 L381.45,446.89 L381.75,446.90 L382.05,446.91 L382.35,446.92 L382.65,446.93 L382.95,446.94 L383.25,446.95 L383.55,446.96 L383.85,446.96 L384.15,446.97 L384.45,446.98 L384.75,446.98 L385.05,446.99 L385.35,447.00 L385.65,447.00 L385.95,447.01 L386.25,447.02 L386.55,447.02 L386.85,447.03 L387.15,447.03 L387.45,447.04 L387.75,447.04 L388.05,447.05 L388.35,447.05 L388.65,447.06 L388.95,447.06 L389.25,447.07 L389.55,447.07 L389.85,447.08 L390.15,447.08 L390.45,447.08 L390.75,447.09 L391.05,447.09 L391.35,447.09 L391.65,447.10 L391.95,447.10 L392.25,447.10 L392.55,447.11 L392.85,447.11 L393.15,447.11 L393.45,447.12 L393.75,447.12 L394.05,447.12 L394.35,447.12 L394.65,447.13 L394.95,447.13 L395.25,447.13 L395.55,447.13 L395.85,447.13 L396.15,447.14 L396.45,447.14 L396.75,447.14 L397.05,447.14 L397.35,447.14 L397.65,447.15 L397.95,447.15 L398.25,447.15 L398.55,447.15 L398.85,447.15 L399.15,447.15 L399.45,447.16 L399.75,447.16 L400.05,447.16 L400.35,447.16 L400.65,447.16 L400.95,447.16 L401.25,447.16 L401.55,447.16 L401.85,447.17 L402.15,447.17 L402.45,447.17 L402.75,447.17 L403.05,447.17 L403.35,447.17 L403.65,447.17 L403.95,447.17 L404.25,447.17 L404.55,447.17 L404.85,447.18 L405.15,447.18 L405.45,447.18 L405.75,447.18 L406.05,447.18 L406.35,447.18 L406.65,447.18 L406.95,447.18 L407.25,447.18 L407.55,447.18 L407.85,447.18 L408.15,447.18 L408.45,447.18 L408.75,447.18 L409.05,447.18 L409.35,447.18 L409.65,447.19 L409.95,447.19 L410.25,447.19 L410.55,447.19 L410.85,447.19 L411.15,447.19 L411.45,447.19 L411.75,447.19 L412.05,447.19 L412.35,447.19 L412.65,447.19 L412.95,447.19 L413.25,447.19 L413.55,447.19 L413.85,447.19 L414.15,447.19 L414.45,447.19 L414.75,447.19 L415.05,447.19 L415.35,447.19 L415.65,447.19 L415.95,447.19 L416.25,447.19 L416.55,447.19 L416.85,447.19 L417.15,447.19 L417.45,447.19 L417.75,447.19 L418.05,447.19 L418.35,447.19 L418.65,447.19 L418.95,447.19 L419.25,447.19 L419.55,447.19 L419.85,447.20 L420.15,447.20 L420.45,447.20 L420.75,447.20 L421.05,447.20 L421.35,447.20 L421.65,447.20 L421.95,447.20 L422.25,447.20 L422.55,447.20 L422.85,447.20 L423.15,447.20 L423.45,447.20 L423.75,447.20 L424.05,447.20 L424.35,447.20 L424.65,447.20 L424.95,447.20 L425.25,447.20 L425.55,447.20 L425.85,447.20 L426.15,447.20 L426.45,447.20 L426.75,447.20 L427.05,447.20 L427.35,447.20 L427.65,447.20 L427.95,447.20 L428.25,447.20 L428.55,447.20 L428.85,447.20 L429.15,447.20 L429.45,447.20 L429.75,447.20 L430.05,447.20 L430.35,447.20 L430.65,447.20 L430.95,447.20 L431.25,447.20 L431.55,447.20 L431.85,447.20 L432.15,447.20 L432.45,447.20 L432.75,447.20 L433.05,447.20 L433.35,447.20 L433.65,447.20 L433.95,447.20 L434.25,447.20 L434.55,447.20 L434.85,447.20 L435.15,447.20 L435.45,447.20 L435.75,447.20 L436.05,447.20 L436.35,447.20 L436.65,447.22 L436.95,447.33 L437.25,447.50 L437.55,447.74 L437.85,448.05 L438.15,448.43 L438.45,448.87 L438.75,449.37 L439.05,449.93 L439.35,450.54 L439.65,451.22 L439.95,451.94 L440.25,452.72 L440.55,453.54 L440.85,454.42 L441.15,455.34 L441.45,456.30 L441.75,457.31 L442.05,458.36 L442.35,459.45 L442.65,460.58 L442.95,461.74 L443.25,462.95 L443.55,464.18 L443.85,465.46 L444.15,466.76 L444.45,468.10 L444.75,469.46 L445.05,470.86 L445.35,472.29 L445.65,473.74 L445.95,475.22 L446.25,476.72 L446.55,478.25 L446.85,479.81 L447.15,481.39 L447.45,482.99 L447.75,484.61 L448.05,486.25 L448.35,487.91 L448.65,489.57 L448.95,491.17 L449.25,492.72 L449.55,494.21 L449.85,495.66 L450.15,497.05 L450.45,498.40 L450.75,499.70 L451.05,500.96 L451.35,502.17 L451.65,503.35 L451.95,504.48 L452.25,505.58 L452.55,506.63 L452.85,507.66 L453.15,508.64 L453.45,509.60 L453.75,510.52 L454.05,511.41 L454.35,512.27 L454.65,513.10 L454.95,513.91 L455.25,514.68 L455.55,515.43 L455.85,516.16 L456.15,516.86 L456.45,517.53 L456.75,518.18 L457.05,518.82 L457.35,519.43 L457.65,520.01 L457.95,520.58 L458.25,521.13 L458.55,521.66 L458.85,522.18 L459.15,522.67 L459.45,523.15 L459.75,523.61 L460.05,524.06 L460.35,524.49 L460.65,524.91 L460.95,525.31 L461.25,525.70 L461.55,526.08 L461.85,526.44 L462.15,526.79 L462.45,527.13 L462.75,527.46 L463.05,527.78 L463.35,528.08 L463.65,528.38 L463.95,528.66 L464.25,528.94 L464.55,529.21 L464.85,529.46 L465.15,529.71 L465.45,529.95 L465.75,530.18 L466.05,530.41 L466.35,530.62 L466.65,530.83 L466.95,531.04 L467.25,531.23 L467.55,531.42 L467.85,531.60 L468.15,531.78 L468.45,531.95 L468.75,532.11 L469.05,532.27 L469.35,532.43 L469.65,532.57 L469.95,532.72 L470.25,532.86 L470.55,532.99 L470.85,533.12 L471.15,533.24 L471.45,533.36 L471.75,533.48 L472.05,533.59 L472.35,533.70 L472.65,533.81 L472.95,533.91 L473.25,534.01 L473.55,534.10 L473.85,534.19 L474.15,534.28 L474.45,534.37 L474.75,534.45 L475.05,534.53 L475.35,534.61 L475.65,534.68 L475.95,534.75 L476.25,534.82 L476.55,534.89 L476.85,534.95 L477.15,535.02 L477.45,535.08 L477.75,535.13 L478.05,535.19 L478.35,535.25 L478.65,535.30 L478.95,535.35 L479.25,535.40 L479.55,535.45 L479.85,535.49 L480.15,535.54 L480.45,535.58 L480.75,535.62 L481.05,535.66 L481.35,535.70 L481.65,535.74 L481.95,535.77 L482.25,535.81 L482.55,535.84 L482.85,535.87 L483.15,535.90 L483.45,535.93 L483.75,535.96 L484.05,535.99 L484.35,536.02 L484.65,536.05 L484.95,536.07 L485.25,536.10 L485.55,536.12 L485.85,536.14 L486.15,536.17 L486.45,536.19 L486.75,536.21 L487.05,536.23 L487.35,536.25 L487.65,536.27 L487.95,536.28 L488.25,536.30 L488.55,536.32 L488.85,536.33 L489.15,536.35 L489.45,536.37 L489.75,536.38 L490.05,536.39 L490.35,536.41 L490.65,536.42 L490.95,536.43 L491.25,536.45 L491.55,536.46 L491.85,536.47 L492.15,536.48 L492.45,536.49 L492.75,536.50 L493.05,536.51 L493.35,536.52 L493.65,536.53 L493.95,536.54 L494.25,536.55 L494.55,536.56 L494.85,536.57 L495.15,536.57 L495.45,536.58 L495.75,536.59 L496.05,536.60 L496.35,536.60 L496.65,536.61 L496.95,536.62 L497.25,536.62 L497.55,536.63 L497.85,536.63 L498.15,536.64 L498.45,536.65 L498.75,536.65 L499.05,536.66 L499.35,536.66 L499.65,536.67 L499.95,536.67 L500.25,536.67 L500.55,536.68 L500.85,536.68 L501.15,536.69 L501.45,536.69 L501.75,536.69 L502.05,536.70 L502.35,536.70 L502.65,536.70 L502.95,536.71 L503.25,536.71 L503.55,536.71 L503.85,536.72 L504.15,536.72 L504.45,536.72 L504.75,536.73 L505.05,536.73 L505.35,536.73 L505.65,536.73 L505.95,536.73 L506.25,536.74 L506.55,536.74 L506.85,536.74 L507.15,536.74 L507.45,536.75 L507.75,536.75 L508.05,536.75 L508.35,536.75 L508.65,536.75 L508.95,536.75 L509.25,536.76 L509.55,536.76 L509.85,536.76 L510.15,536.76 L510.45,536.76 L510.75,536.76 L511.05,536.76 L511.35,536.76 L511.65,536.77 L511.95,536.77 L512.25,536.77 L512.55,536.77 L512.85,536.77 L513.15,536.77 L513.45,536.77 L513.75,536.77 L514.05,536.77 L514.35,536.78 L514.65,536.78 L514.95,536.78 L515.25,536.78 L515.55,536.78 L515.85,536.78 L516.15,536.78 L516.45,536.78 L516.75,536.78 L517.05,536.78 L517.35,536.78 L517.65,536.78 L517.95,536.78 L518.25,536.78 L518.55,536.78 L518.85,536.79 L519.15,536.79 L519.45,536.79 L519.75,536.79 L520.05,536.79 L520.35,536.79 L520.65,536.79 L520.95,536.79 L521.25,536.79 L521.55,536.79 L521.85,536.79 L522.15,536.79 L522.45,536.79 L522.75,536.79 L523.05,536.79 L523.35,536.79 L523.65,536.79 L523.95,536.79 L524.25,536.79 L524.55,536.79 L524.85,536.79 L525.15,536.79 L525.45,536.79 L525.75,536.79 L526.05,536.79 L526.35,536.79 L526.65,536.79 L526.95,536.79 L527.25,536.79 L527.55,536.79 L527.85,536.79 L528.15,536.79 L528.45,536.80 L528.75,536.80 L529.05,536.80 L529.35,536.80 L529.65,536.80 L529.95,536.80 L530.25,536.80 L530.55,536.80 L530.85,536.80 L531.15,536.80 L531.45,536.80 L531.75,536.80 L532.05,536.80 L532.35,536.80 L532.65,536.80 L532.95,536.80 L533.25,536.80 L533.55,536.80 L533.85,536.80 L534.15,536.80 L534.45,536.80 L534.75,536.80 L535.05,536.80 L535.35,536.80 L535.65,536.80 L535.95,536.80 L536.25,536.80 L536.55,536.80 L536.85,536.80 L537.15,536.80 L537.45,536.80 L537.75,536.80 L538.05,536.80 L538.35,536.80 L538.65,536.80 L538.95,536.80 L539.25,536.80 L539.55,536.80 L539.85,536.80 L540.15,536.80 L540.45,536.80 L540.75,536.80 L541.05,536.80 L541.35,536.80 L541.65,536.80 L541.95,536.80 L542.25,536.80 L542.55,536.80 L542.85,536.80 L543.15,536.80 L543.45,536.80 L543.75,536.80 L544.05,536.80 L544.35,536.80 L544.65,536.80 L544.95,536.80 L545.25,536.80 L545.55,536.80 L545.85,536.80 L546.15,536.80 L546.45,536.80 L546.75,536.80 L547.05,536.80 L547.35,536.80 L547.65,536.80 L547.95,536.80 L548.25,536.80 L548.55,536.80 L548.85,536.80 L549.15,536.80 L549.45,536.80 L549.75,536.80 L550.05,536.80 L550.35,536.80 L550.65,536.80 L550.95,536.80 L551.25,536.80 L551.55,536.80 L551.85,536.80 L552.15,536.80 L552.45,536.80 L552.75,536.80 L553.05,536.80 L553.35,536.80 L553.65,536.84 L553.95,536.95 L554.25,537.12 L554.55,537.35 L554.85,537.64 L555.15,537.98 L555.45,538.37 L555.75,538.82 L556.05,539.31 L556.35,539.86 L556.65,540.45 L556.95,541.08 L557.25,541.75 L557.55,542.47 L557.85,543.22 L558.15,544.02 L558.45,544.85 L558.75,545.71 L559.05,546.61 L559.35,547.54 L559.65,548.50 L559.95,549.50 L560.25,550.52 L560.55,551.57 L560.85,552.65 L561.15,553.75 L561.45,554.88 L561.75,556.03 L562.05,557.21 L562.35,558.40 L562.65,559.62 L562.95,560.86 L563.25,562.12 L563.55,563.40 L563.85,564.70 L564.15,566.02 L564.45,567.35 L564.75,568.70 L565.05,570.07 L565.35,571.45 L565.65,572.80 L565.95,574.11 L566.25,575.36 L566.55,576.57 L566.85,577.73 L567.15,578.86 L567.45,579.94 L567.75,580.98 L568.05,581.98 L568.35,582.94 L568.65,583.87 L568.95,584.77 L569.25,585.63 L569.55,586.46 L569.85,587.26 L570.15,588.03 L570.45,588.77 L570.75,589.49 L571.05,590.18 L571.35,590.84 L571.65,591.48 L571.95,592.10 L572.25,592.69 L572.55,593.26 L572.85,593.81 L573.15,594.34 L573.45,594.85 L573.75,595.34 L574.05,595.81 L574.35,596.27 L574.65,596.71 L574.95,597.13 L575.25,597.54 L575.55,597.93 L575.85,598.31 L576.15,598.67 L576.45,599.02 L576.75,599.36 L577.05,599.69 L577.35,600.00 L577.65,600.30 L577.95,600.59 L578.25,600.87 L578.55,601.14 L578.85,601.40 L579.15,601.65 L579.45,601.89 L579.75,602.13 L580.05,602.35 L580.35,602.56 L580.65,602.77 L580.95,602.97 L581.25,603.16 L581.55,603.35 L581.85,603.53 L582.15,603.70 L582.45,603.87 L582.75,604.03 L583.05,604.18 L583.35,604.33 L583.65,604.47 L583.95,604.61 L584.25,604.74 L584.55,604.87 L584.85,604.99 L585.15,605.11 L585.45,605.22 L585.75,605.33 L586.05,605.44 L586.35,605.54 L586.65,605.64 L586.95,605.73 L587.25,605.82 L587.55,605.91 L587.85,605.99 L588.15,606.07 L588.45,606.15 L588.75,606.23 L589.05,606.30 L589.35,606.37 L589.65,606.44 L589.95,606.50 L590.25,606.57 L590.55,606.63 L590.85,606.68 L591.15,606.74 L591.45,606.79 L591.75,606.84 L592.05,606.89 L592.35,606.94 L592.65,606.99 L592.95,607.03 L593.25,607.08 L593.55,607.12 L593.85,607.16 L594.15,607.20 L594.45,607.23 L594.75,607.27 L595.05,607.30 L595.35,607.34 L595.65,607.37 L595.95,607.40 L596.25,607.43 L596.55,607.46 L596.85,607.48 L597.15,607.51 L597.45,607.54 L597.75,607.56 L598.05,607.58 L598.35,607.61 L598.65,607.63 L598.95,607.65 L599.25,607.67 L599.55,607.69 L599.85,607.71 L600.15,607.73 L600.45,607.74 L600.75,607.76 L601.05,607.78 L601.35,607.79 L601.65,607.81 L601.95,607.82 L602.25,607.84 L602.55,607.85 L602.85,607.86 L603.15,607.87 L603.45,607.89 L603.75,607.90 L604.05,607.91 L604.35,607.92 L604.65,607.93 L604.95,607.94 L605.25,607.95 L605.55,607.96 L605.85,607.97 L606.15,607.98 L606.45,607.98 L606.75,607.99 L607.05,608.00 L607.35,608.01 L607.65,608.01 L607.95,608.02 L608.25,608.03 L608.55,608.03 L608.85,608.04 L609.15,608.05 L609.45,608.05 L609.75,608.06 L610.05,608.06 L610.35,608.07 L610.65,608.07 L610.95,608.08 L611.25,608.08 L611.55,608.09 L611.85,608.09 L612.15,608.09 L612.45,608.10 L612.75,608.10 L613.05,608.11 L613.35,608.11 L613.65,608.11 L613.95,608.12 L614.25,608.12 L614.55,608.12 L614.85,608.12 L615.15,608.13 L615.45,608.13 L615.75,608.13 L616.05,608.14 L616.35,608.14 L616.65,608.14 L616.95,608.14 L617.25,608.14 L617.55,608.15 L617.85,608.15 L618.15,608.15 L618.45,608.15 L618.75,608.15 L619.05,608.16 L619.35,608.16 L619.65,608.16 L619.95,608.16 L620.25,608.16 L620.55,608.16 L620.85,608.16 L621.15,608.17 L621.45,608.17 L621.75,608.17 L622.05,608.17 L622.35,608.17 L622.65,608.17 L622.95,608.17 L623.25,608.17 L623.55,608.17 L623.85,608.18 L624.15,608.18 L624.45,608.18 L624.75,608.18 L625.05,608.18 L625.35,608.18 L625.65,608.18 L625.95,608.18 L626.25,608.18 L626.55,608.18 L626.85,608.18 L627.15,608.18 L627.45,608.18 L627.75,608.18 L628.05,608.19 L628.35,608.19 L628.65,608.19 L628.95,608.19 L629.25,608.19 L629.55,608.19 L629.85,608.19 L630.15,608.19 L630.45,608.19 L630.75,608.19 L631.05,608.19 L631.35,608.19 L631.65,608.19 L631.95,608.19 L632.25,608.19 L632.55,608.19 L632.85,608.19 L633.15,608.19 L633.45,608.19 L633.75,608.19 L634.05,608.19 L634.35,608.19 L634.65,608.19 L634.95,608.19 L635.25,608.19 L635.55,608.19 L635.85,608.19 L636.15,608.19 L636.45,608.19 L636.75,608.20 L637.05,608.20 L637.35,608.20 L637.65,608.20 L637.95,608.20 L638.25,608.20 L638.55,608.20 L638.85,608.20 L639.15,608.20 L639.45,608.20 L639.75,608.20 L640.05,608.20 L640.35,608.20 L640.65,608.20 L640.95,608.20 L641.25,608.20 L641.55,608.20 L641.85,608.20 L642.15,608.20 L642.45,608.20 L642.75,608.20 L643.05,608.20 L643.35,608.20 L643.65,608.20 L643.95,608.20 L644.25,608.20 L644.55,608.20 L644.85,608.20 L645.15,608.20 L645.45,608.20 L645.75,608.20 L646.05,608.20 L646.35,608.20 L646.65,608.20 L646.95,608.20 L647.25,608.20 L647.55,608.20 L647.85,608.20 L648.15,608.20 L648.45,608.20 L648.75,608.20 L649.05,608.20 L649.35,608.20 L649.65,608.20 L649.95,608.20 L650.25,608.20 L650.55,608.20 L650.85,608.20 L651.15,608.20 L651.45,608.20 L651.75,608.20 L652.05,608.20 L652.35,608.20 L652.65,608.20 L652.95,608.20 L653.25,608.20 L653.55,608.20 L653.85,608.20 L654.15,608.20 L654.45,608.20 L654.75,608.20 L655.05,608.20 L655.35,608.20 L655.65,608.20 L655.95,608.20 L656.25,608.20 L656.55,608.20 L656.85,608.20 L657.15,608.20 L657.45,608.20 L657.75,608.20 L658.05,608.20 L658.35,608.20 L658.65,608.20 L658.95,608.20 L659.25,608.20 L659.55,608.20 L659.85,608.20 L660.15,608.20 L660.45,608.20 L660.75,608.20 L661.05,608.20 L661.35,608.20 L661.65,608.20 L661.95,608.20 L662.25,608.20 L662.55,608.20 L662.85,608.20 L663.15,608.20 L663.45,608.20 L663.75,608.20 L664.05,608.20 L664.35,608.20 L664.65,608.20 L664.95,608.20 L665.25,608.20 L665.55,608.20 L665.85,608.20 L666.15,608.20 L666.45,608.20 L666.75,608.20 L667.05,608.20 L667.35,608.20 L667.65,608.20 L667.95,608.20 L668.25,608.20 L668.55,608.20 L668.85,608.20 L669.15,608.20 L669.45,608.20 L669.75,608.20 L670.05,608.20 L670.35,608.21 L670.65,608.26 L670.95,608.38 L671.25,608.54 L671.55,608.76 L671.85,609.03 L672.15,609.34 L672.45,609.70 L672.75,610.10 L673.05,610.54 L673.35,611.02 L673.65,611.55 L673.95,612.11 L674.25,612.70 L674.55,613.33 L674.85,613.99 L675.15,614.68 L675.45,615.40 L675.75,616.15 L676.05,616.93 L676.35,617.74 L676.65,618.57 L676.95,619.42 L677.25,620.30 L677.55,621.20 L677.85,622.13 L678.15,623.07 L678.45,624.04 L678.75,625.02 L679.05,626.02 L679.35,627.04 L679.65,628.08 L679.95,629.14 L680.25,630.20 L680.55,631.29 L680.85,632.39 L681.15,633.50 L681.45,634.63 L681.75,635.77 L682.05,636.92 L682.35,638.08 L682.65,639.19 L682.95,640.27 L683.25,641.30 L683.55,642.29 L683.85,643.24 L684.15,644.15 L684.45,645.02 L684.75,645.87 L685.05,646.67 L685.35,647.45 L685.65,648.19 L685.95,648.91 L686.25,649.60 L686.55,650.26 L686.85,650.89 L687.15,651.50 L687.45,652.08 L687.75,652.64 L688.05,653.18 L688.35,653.70 L688.65,654.20 L688.95,654.67 L689.25,655.13 L689.55,655.57 L689.85,655.99 L690.15,656.40 L690.45,656.79 L690.75,657.16 L691.05,657.52 L691.35,657.87 L691.65,658.20 L691.95,658.51 L692.25,658.82 L692.55,659.11 L692.85,659.39 L693.15,659.67 L693.45,659.92 L693.75,660.17 L694.05,660.41 L694.35,660.64 L694.65,660.86 L694.95,661.08 L695.25,661.28 L695.55,661.48 L695.85,661.66 L696.15,661.84 L696.45,662.02 L696.75,662.18 L697.05,662.34 L697.35,662.50 L697.65,662.64 L697.95,662.78 L698.25,662.92 L698.55,663.05 L698.85,663.18 L699.15,663.30 L699.45,663.41 L699.75,663.52 L700.05,663.63 L700.35,663.73 L700.65,663.83 L700.95,663.92 L701.25,664.01 L701.55,664.10 L701.85,664.18 L702.15,664.26 L702.45,664.34 L702.75,664.41 L703.05,664.49 L703.35,664.55 L703.65,664.62 L703.95,664.68 L704.25,664.74 L704.55,664.80 L704.85,664.86 L705.15,664.91 L705.45,664.96 L705.75,665.01 L706.05,665.06 L706.35,665.10 L706.65,665.15 L706.95,665.19 L707.25,665.23 L707.55,665.27 L707.85,665.30 L708.15,665.34 L708.45,665.37 L708.75,665.41 L709.05,665.44 L709.35,665.47 L709.65,665.50 L709.95,665.53 L710.25,665.55 L710.55,665.58 L710.85,665.60 L711.15,665.63 L711.45,665.65 L711.75,665.67 L712.05,665.69 L712.35,665.71 L712.65,665.73 L712.95,665.75 L713.25,665.77 L713.55,665.79 L713.85,665.80 L714.15,665.82 L714.45,665.83 L714.75,665.85 L715.05,665.86 L715.35,665.87 L715.65,665.89 L715.95,665.90 L716.25,665.91 L716.55,665.92 L716.85,665.93 L717.15,665.94 L717.45,665.96 L717.75,665.96 L718.05,665.97 L718.35,665.98 L718.65,665.99 L718.95,666.00 L719.25,666.01 L719.55,666.02 L719.85,666.02 L720.15,666.03 L720.45,666.04 L720.75,666.04 L721.05,666.05 L721.35,666.06 L721.65,666.06 L721.95,666.07 L722.25,666.07 L722.55,666.08 L722.85,666.08 L723.15,666.09 L723.45,666.09 L723.75,666.10 L724.05,666.10 L724.35,666.10 L724.65,666.11 L724.95,666.11 L725.25,666.11 L725.55,666.12 L725.85,666.12 L726.15,666.12 L726.45,666.13 L726.75,666.13 L727.05,666.13 L727.35,666.14 L727.65,666.14 L727.95,666.14 L728.25,666.14 L728.55,666.15 L728.85,666.15 L729.15,666.15 L729.45,666.15 L729.75,666.15 L730.05,666.16 L730.35,666.16 L730.65,666.16 L730.95,666.16 L731.25,666.16 L731.55,666.16 L731.85,666.17 L732.15,666.17 L732.45,666.17 L732.75,666.17 L733.05,666.17 L733.35,666.17 L733.65,666.17 L733.95,666.17 L734.25,666.17 L734.55,666.18 L734.85,666.18 L735.15,666.18 L735.45,666.18 L735.75,666.18 L736.05,666.18 L736.35,666.18 L736.65,666.18 L736.95,666.18 L737.25,666.18 L737.55,666.18 L737.85,666.18 L738.15,666.19 L738.45,666.19 L738.75,666.19 L739.05,666.19 L739.35,666.19 L739.65,666.19 L739.95,666.19 L740.25,666.19 L740.55,666.19 L740.85,666.19 L741.15,666.19 L741.45,666.19 L741.75,666.19 L742.05,666.19 L742.35,666.19 L742.65,666.19 L742.95,666.19 L743.25,666.19 L743.55,666.19 L743.85,666.19 L744.15,666.19 L744.45,666.19 L744.75,666.19 L745.05,666.19 L745.35,666.19 L745.65,666.19 L745.95,666.19 L746.25,666.20 L746.55,666.20 L746.85,666.20 L747.15,666.20 L747.45,666.20 L747.75,666.20 L748.05,666.20 L748.35,666.20 L748.65,666.20 L748.95,666.20 L749.25,666.20 L749.55,666.20 L749.85,666.20 L750.15,666.20 L750.45,666.20 L750.75,666.20 L751.05,666.20 L751.35,666.20 L751.65,666.20 L751.95,666.20 L752.25,666.20 L752.55,666.20 L752.85,666.20 L753.15,666.20 L753.45,666.20 L753.75,666.20 L754.05,666.20 L754.35,666.20 L754.65,666.20 L754.95,666.20 L755.25,666.20 L755.55,666.20 L755.85,666.20 L756.15,666.20 L756.45,666.20 L756.75,666.20 L757.05,666.20 L757.35,666.20 L757.65,666.20 L757.95,666.20 L758.25,666.20 L758.55,666.20 L758.85,666.20 L759.15,666.20 L759.45,666.20 L759.75,666.20 L760.05,666.20 L760.35,666.20 L760.65,666.20 L760.95,666.20 L761.25,666.20 L761.55,666.20 L761.85,666.20 L762.15,666.20 L762.45,666.20 L762.75,666.20 L763.05,666.20 L763.35,666.20 L763.65,666.20 L763.95,666.20 L764.25,666.20 L764.55,666.20 L764.85,666.20 L765.15,666.20 L765.45,666.20 L765.75,666.20 L766.05,666.20 L766.35,666.20 L766.65,666.20 L766.95,666.20 L767.25,666.20 L767.55,666.20 L767.85,666.20 L768.15,666.20 L768.45,666.20 L768.75,666.20 L769.05,666.20 L769.35,666.20 L769.65,666.20 L769.95,666.20 L770.25,666.20 L770.55,666.20 L770.85,666.20 L771.15,666.20 L771.45,666.20 L771.75,666.20 L772.05,666.20 L772.35,666.20 L772.65,666.20 L772.95,666.20 L773.25,666.20 L773.55,666.20 L773.85,666.20 L774.15,666.20 L774.45,666.20 L774.75,666.20 L775.05,666.20 L775.35,666.20 L775.65,666.20 L775.95,666.20 L776.25,666.20 L776.55,666.20 L776.85,666.20 L777.15,666.20 L777.45,666.20 L777.75,666.20 L778.05,666.20 L778.35,666.20 L778.65,666.20 L778.95,666.20 L779.25,666.20 L779.55,666.20 L779.85,666.20 L780.15,666.20 L780.45,666.20 L780.75,666.20 L781.05,666.20 L781.35,666.20 L781.65,666.20 L781.95,666.20 L782.25,666.20 L782.55,666.20 L782.85,666.20 L783.15,666.20 L783.45,666.20 L783.75,666.20 L784.05,666.20 L784.35,666.20 L784.65,666.20 L784.95,666.20 L785.25,666.20 L785.55,666.20 L785.85,666.20 L786.15,666.20 L786.45,666.20 L786.75,666.20 L787.05,666.20 L787.35,666.23 L787.65,666.32 L787.95,666.48 L788.25,666.69 L788.55,666.95 L788.85,667.26 L789.15,667.61 L789.45,668.00 L789.75,668.42 L790.05,668.88 L790.35,669.37 L790.65,669.89 L790.95,670.44 L791.25,671.01 L791.55,671.61 L791.85,672.23 L792.15,672.88 L792.45,673.55 L792.75,674.24 L793.05,674.96 L793.35,675.69 L793.65,676.44 L793.95,677.21 L794.25,678.00 L794.55,678.80 L794.85,679.62 L795.15,680.45 L795.45,681.30 L795.75,682.17 L796.05,683.05 L796.35,683.94 L796.65,684.85 L796.95,685.76 L797.25,686.69 L797.55,687.64 L797.85,688.59 L798.15,689.55 L798.45,690.53 L798.75,691.51 L799.05,692.50 L799.35,693.48 L799.65,694.40 L799.95,695.26 L800.25,696.07 L800.55,696.85 L800.85,697.58 L801.15,698.29 L801.45,698.96 L801.75,699.60 L802.05,700.21 L802.35,700.80 L802.65,701.36 L802.95,701.91 L803.25,702.43 L803.55,702.93 L803.85,703.41 L804.15,703.88 L804.45,704.32 L804.75,704.75 L805.05,705.16 L805.35,705.56 L805.65,705.95 L805.95,706.32 L806.25,706.67 L806.55,707.01 L806.85,707.34 L807.15,707.66 L807.45,707.97 L807.75,708.26 L808.05,708.54 L808.35,708.82 L808.65,709.08 L808.95,709.33 L809.25,709.58 L809.55,709.81 L809.85,710.04 L810.15,710.26 L810.45,710.47 L810.75,710.67 L811.05,710.87 L811.35,711.06 L811.65,711.24 L811.95,711.41 L812.25,711.58 L812.55,711.74 L812.85,711.90 L813.15,712.05 L813.45,712.19 L813.75,712.33 L814.05,712.47 L814.35,712.60 L814.65,712.72 L814.95,712.84 L815.25,712.96 L815.55,713.07 L815.85,713.18 L816.15,713.28 L816.45,713.38 L816.75,713.48 L817.05,713.57 L817.35,713.66 L817.65,713.74 L817.95,713.83 L818.25,713.91 L818.55,713.98 L818.85,714.06 L819.15,714.13 L819.45,714.20 L819.75,714.27 L820.05,714.33 L820.35,714.39 L820.65,714.45 L820.95,714.51 L821.25,714.56 L821.55,714.62 L821.85,714.67 L822.15,714.72 L822.45,714.76 L822.75,714.81 L823.05,714.85 L823.35,714.90 L823.65,714.94 L823.95,714.98 L824.25,715.02 L824.55,715.05 L824.85,715.09 L825.15,715.12 L825.45,715.16 L825.75,715.19 L826.05,715.22 L826.35,715.25 L826.65,715.28 L826.95,715.30 L827.25,715.33 L827.55,715.36 L827.85,715.38 L828.15,715.41 L828.45,715.43 L828.75,715.45 L829.05,715.47 L829.35,715.49 L829.65,715.51 L829.95,715.53 L830.25,715.55 L830.55,715.57 L830.85,715.58 L831.15,715.60 L831.45,715.62 L831.75,715.63 L832.05,715.65 L832.35,715.66 L832.65,715.68 L832.95,715.69 L833.25,715.70 L833.55,715.72 L833.85,715.73 L834.15,715.74 L834.45,715.75 L834.75,715.76 L835.05,715.77 L835.35,715.78 L835.65,715.79 L835.95,715.80 L836.25,715.81 L836.55,715.82 L836.85,715.83 L837.15,715.84 L837.45,715.85 L837.75,715.85 L838.05,715.86 L838.35,715.87 L838.65,715.87 L838.95,715.88 L839.25,715.89 L839.55,715.89 L839.85,715.90 L840.15,715.91 L840.45,715.91 L840.75,715.92 L841.05,715.92 L841.35,715.93 L841.65,715.93 L841.95,715.94 L842.25,715.94 L842.55,715.95 L842.85,715.95 L843.15,715.96 L843.45,715.96 L843.75,715.97 L844.05,715.97 L844.35,715.97 L844.65,715.98 L844.95,715.98 L845.25,715.99 L845.55,715.99 L845.85,715.99 L846.15,716.00 L846.45,716.00 L846.75,716.00 L847.05,716.01 L847.35,716.01 L847.65,716.01 L847.95,716.01 L848.25,716.02 L848.55,716.02 L848.85,716.02 L849.15,716.02 L849.45,716.03 L849.75,716.03 L850.05,716.03 L850.35,716.03 L850.65,716.04 L850.95,716.04 L851.25,716.04 L851.55,716.04 L851.85,716.04 L852.15,716.05 L852.45,716.05 L852.75,716.05 L853.05,716.05 L853.35,716.05 L853.65,716.06 L853.95,716.06 L854.25,716.06 L854.55,716.06 L854.85,716.06 L855.15,716.07 L855.45,716.07 L855.75,716.07 L856.05,716.07 L856.35,716.07 L856.65,716.07 L856.95,716.07 L857.25,716.08 L857.55,716.08 L857.85,716.08 L858.15,716.08 L858.45,716.08 L858.75,716.08 L859.05,716.08 L859.35,716.09 L859.65,716.09 L859.95,716.09 L860.25,716.09 L860.55,716.09 L860.85,716.09 L861.15,716.09 L861.45,716.10 L861.75,716.10 L862.05,716.10 L862.35,716.10 L862.65,716.10 L862.95,716.10 L863.25,716.10 L863.55,716.10 L863.85,716.10 L864.15,716.11 L864.45,716.11 L864.75,716.11 L865.05,716.11 L865.35,716.11 L865.65,716.11 L865.95,716.11 L866.25,716.11 L866.55,716.11 L866.85,716.12 L867.15,716.12 L867.45,716.12 L867.75,716.12 L868.05,716.12 L868.35,716.12 L868.65,716.12 L868.95,716.12 L869.25,716.12 L869.55,716.13 L869.85,716.13 L870.15,716.13 L870.45,716.13 L870.75,716.13 L871.05,716.13 L871.35,716.13 L871.65,716.13 L871.95,716.13 L872.25,716.13 L872.55,716.14 L872.85,716.14 L873.15,716.14 L873.45,716.14 L873.75,716.14 L874.05,716.14 L874.35,716.14 L874.65,716.14 L874.95,716.14 L875.25,716.14 L875.55,716.15 L875.85,716.15 L876.15,716.15 L876.45,716.15 L876.75,716.15 L877.05,716.15 L877.35,716.15 L877.65,716.15 L877.95,716.15 L878.25,716.15 L878.55,716.15 L878.85,716.16 L879.15,716.16 L879.45,716.16 L879.75,716.16 L880.05,716.16 L880.35,716.16 L880.65,716.16 L880.95,716.16 L881.25,716.16 L881.55,716.16 L881.85,716.16 L882.15,716.17 L882.45,716.17 L882.75,716.17 L883.05,716.17 L883.35,716.17 L883.65,716.17 L883.95,716.17 L884.25,716.17 L884.55,716.17 L884.85,716.17 L885.15,716.18 L885.45,716.18 L885.75,716.18 L886.05,716.18 L886.35,716.18 L886.65,716.18 L886.95,716.18 L887.25,716.18 L887.55,716.18 L887.85,716.18 L888.15,716.18 L888.45,716.19 L888.75,716.19 L889.05,716.19 L889.35,716.19 L889.65,716.19 L889.95,716.19 L890.25,716.19 L890.55,716.19 L890.85,716.19 L891.15,716.19 L891.45,716.19 L891.75,716.20 L892.05,716.20 L892.35,716.20 L892.65,716.20 L892.95,716.20 L893.25,716.20 L893.55,716.20 L893.85,716.20 L894.15,716.20 L894.45,716.20 L894.75,716.20 L895.05,716.21 L895.35,716.21 L895.65,716.21 L895.95,716.21 L896.25,716.21 L896.55,716.21 L896.85,716.21 L897.15,716.21 L897.45,716.21 L897.75,716.21 L898.05,716.21 L898.35,716.22 L898.65,716.22 L898.95,716.22 L899.25,716.22 L899.55,716.22 L899.85,716.22 L900.15,716.22 L900.45,716.22 L900.75,716.22 L901.05,716.22 L901.35,716.22 L901.65,716.22 L901.95,716.23 L902.25,716.23 L902.55,716.23 L902.85,716.23 L903.15,716.23 L903.45,716.23 L903.75,716.23 L904.05,716.23 L904.35,716.24 L904.65,716.25 L904.95,716.27 L905.25,716.30 L905.55,716.33 L905.85,716.37 L906.15,716.41 L906.45,716.46 L906.75,716.51 L907.05,716.57 L907.35,716.64 L907.65,716.71 L907.95,716.78 L908.25,716.86 L908.55,716.95 L908.85,717.04 L909.15,717.13 L909.45,717.22 L909.75,717.32 L910.05,717.43 L910.35,717.53 L910.65,717.64 L910.95,717.76 L911.25,717.88 L911.55,718.00 L911.85,718.12 L912.15,718.24 L912.45,718.37 L912.75,718.50 L913.05,718.64 L913.35,718.77 L913.65,718.91 L913.95,719.05 L914.25,719.20 L914.55,719.34 L914.85,719.49 L915.15,719.64 L915.45,719.79 L915.75,719.95 L916.05,720.10 L916.35,720.25 L916.65,720.40 L916.95,720.54 L917.25,720.68 L917.55,720.81 L917.85,720.94 L918.15,721.07 L918.45,721.19 L918.75,721.30 L919.05,721.41 L919.35,721.52 L919.65,721.63 L919.95,721.73 L920.25,721.83 L920.55,721.92 L920.85,722.01 L921.15,722.10 L921.45,722.19 L921.75,722.27 L922.05,722.35 L922.35,722.43 L922.65,722.50 L922.95,722.57 L923.25,722.64 L923.55,722.71 L923.85,722.78 L924.15,722.84 L924.45,722.90 L924.75,722.97 L925.05,723.02 L925.35,723.08 L925.65,723.14 L925.95,723.19 L926.25,723.24 L926.55,723.29 L926.85,723.34 L927.15,723.39 L927.45,723.43 L927.75,723.48 L928.05,723.52 L928.35,723.56 L928.65,723.60 L928.95,723.64 L929.25,723.68 L929.55,723.72 L929.85,723.76 L930.15,723.79 L930.45,723.83 L930.75,723.86 L931.05,723.89 L931.35,723.93 L931.65,723.96 L931.95,723.99 L932.25,724.02 L932.55,724.05 L932.85,724.08 L933.15,724.10 L933.45,724.13 L933.75,724.16 L934.05,724.18 L934.35,724.21 L934.65,724.24 L934.95,724.26 L935.25,724.28 L935.55,724.31 L935.85,724.33 L936.15,724.35 L936.45,724.37 L936.75,724.40 L937.05,724.42 L937.35,724.44 L937.65,724.46 L937.95,724.48 L938.25,724.50 L938.55,724.52 L938.85,724.54 L939.15,724.56 L939.45,724.57 L939.75,724.59 L940.05,724.61 L940.35,724.63 L940.65,724.64 L940.95,724.66 L941.25,724.68 L941.55,724.69 L941.85,724.71 L942.15,724.73 L942.45,724.74 L942.75,724.76 L943.05,724.77 L943.35,724.79 L943.65,724.81 L943.95,724.82 L944.25,724.84 L944.55,724.85 L944.85,724.86 L945.15,724.88 L945.45,724.89 L945.75,724.91 L946.05,724.92 L946.35,724.93 L946.65,724.95 L946.95,724.96 L947.25,724.98 L947.55,724.99 L947.85,725.00 L948.15,725.02 L948.45,725.03 L948.75,725.04 L949.05,725.05 L949.35,725.07 L949.65,725.08 L949.95,725.09 L950.25,725.11 L950.55,725.12 L950.85,725.13 L951.15,725.14 L951.45,725.15 L951.75,725.17 L952.05,725.18 L952.35,725.19 L952.65,725.20 L952.95,725.21 L953.25,725.23 L953.55,725.24 L953.85,725.25 L954.15,725.26 L954.45,725.27 L954.75,725.29 L955.05,725.30 L955.35,725.31 L955.65,725.32 L955.95,725.33 L956.25,725.34 L956.55,725.35 L956.85,725.37 L957.15,725.38 L957.45,725.39 L957.75,725.40 L958.05,725.41 L958.35,725.42 L958.65,725.43 L958.95,725.45 L959.25,725.46 L959.55,725.47 L959.85,725.48 L960.15,725.49 L960.45,725.50 L960.75,725.51 L961.05,725.52 L961.35,725.53 L961.65,725.54 L961.95,725.56 L962.25,725.57 L962.55,725.58 L962.85,725.59 L963.15,725.60 L963.45,725.61 L963.75,725.62 L964.05,725.63 L964.35,725.64 L964.65,725.65 L964.95,725.66 L965.25,725.68 L965.55,725.69 L965.85,725.70 L966.15,725.71 L966.45,725.72 L966.75,725.73 L967.05,725.74 L967.35,725.75 L967.65,725.76 L967.95,725.77 L968.25,725.78 L968.55,725.79 L968.85,725.80 L969.15,725.82 L969.45,725.83 L969.75,725.84 L970.05,725.85 L970.35,725.86 L970.65,725.87 L970.95,725.88 L971.25,725.89 L971.55,725.90 L971.85,725.91 L972.15,725.92 L972.45,725.93 L972.75,725.94 L973.05,725.95 L973.35,725.96 L973.65,725.97 L973.95,725.99 L974.25,726.00 L974.55,726.01 L974.85,726.02 L975.15,726.03 L975.45,726.04 L975.75,726.05 L976.05,726.06 L976.35,726.07 L976.65,726.08 L976.95,726.09 L977.25,726.10 L977.55,726.11 L977.85,726.12 L978.15,726.13 L978.45,726.14 L978.75,726.15 L979.05,726.17 L979.35,726.18 L979.65,726.19 L979.95,726.20 L980.25,726.21 L980.55,726.22 L980.85,726.23 L981.15,726.24 L981.45,726.25 L981.75,726.26 L982.05,726.27 L982.35,726.28 L982.65,726.29 L982.95,726.30 L983.25,726.31 L983.55,726.32 L983.85,726.33 L984.15,726.34 L984.45,726.36 L984.75,726.37 L985.05,726.38 L985.35,726.39 L985.65,726.40 L985.95,726.41 L986.25,726.42 L986.55,726.43 L986.85,726.44 L987.15,726.45 L987.45,726.46 L987.75,726.47 L988.05,726.48 L988.35,726.49 L988.65,726.50 L988.95,726.51 L989.25,726.52 L989.55,726.53 L989.85,726.54 L990.15,726.55 L990.45,726.57 L990.75,726.58 L991.05,726.59 L991.35,726.60 L991.65,726.61 L991.95,726.62 L992.25,726.63 L992.55,726.64 L992.85,726.65 L993.15,726.66 L993.45,726.67 L993.75,726.68 L994.05,726.69 L994.35,726.70 L994.65,726.71 L994.95,726.72 L995.25,726.73 L995.55,726.74 L995.85,726.75 L996.15,726.77 L996.45,726.78 L996.75,726.79 L997.05,726.80 L997.35,726.81 L997.65,726.82 L997.95,726.83 L998.25,726.84 L998.55,726.85 L998.85,726.86 L999.15,726.87 L999.45,726.88 L999.75,726.89 L1000.05,726.90 L1000.35,726.91 L1000.65,726.92 L1000.95,726.93 L1001.25,726.94 L1001.55,726.95 L1001.85,726.96 L1002.15,726.98 L1002.45,726.99 L1002.75,727.00 L1003.05,727.01 L1003.35,727.02 L1003.65,727.03 L1003.95,727.04 L1004.25,727.05 L1004.55,727.06 L1004.85,727.07 L1005.15,727.08 L1005.45,727.09 L1005.75,727.10 L1006.05,727.11 L1006.35,727.12 L1006.65,727.13 L1006.95,727.14 L1007.25,727.15 L1007.55,727.16 L1007.85,727.17 L1008.15,727.19 L1008.45,727.20 L1008.75,727.21 L1009.05,727.22 L1009.35,727.23 L1009.65,727.24 L1009.95,727.25 L1010.25,727.26 L1010.55,727.27 L1010.85,727.28 L1011.15,727.29 L1011.45,727.30 L1011.75,727.31 L1012.05,727.32 L1012.35,727.33 L1012.65,727.34 L1012.95,727.35 L1013.25,727.36 L1013.55,727.37 L1013.85,727.38 L1014.15,727.40 L1014.45,727.41 L1014.75,727.42 L1015.05,727.43 L1015.35,727.44 L1015.65,727.45 L1015.95,727.46 L1016.25,727.47 L1016.55,727.48 L1016.85,727.49 L1017.15,727.50 L1017.45,727.51 L1017.75,727.52 L1018.05,727.53 L1018.35,727.54 L1018.65,727.55 L1018.95,727.56 L1019.25,727.57 L1019.55,727.58 L1019.85,727.59 L1020.15,727.61 L1020.45,727.62 L1020.75,727.63 L1021.05,727.64 L1021.35,727.67 L1021.65,727.70 L1021.95,727.74 L1022.25,727.78 L1022.55,727.83 L1022.85,727.89 L1023.15,727.95 L1023.45,728.02 L1023.75,728.10 L1024.05,728.18 L1024.35,728.26 L1024.65,728.36 L1024.95,728.45 L1025.25,728.55 L1025.55,728.65 L1025.85,728.76 L1026.15,728.88 L1026.45,728.99 L1026.75,729.11 L1027.05,729.24 L1027.35,729.37 L1027.65,729.50 L1027.95,729.63 L1028.25,729.77 L1028.55,729.91 L1028.85,730.05 L1029.15,730.20 L1029.45,730.35 L1029.75,730.50 L1030.05,730.66 L1030.35,730.82 L1030.65,730.98 L1030.95,731.14 L1031.25,731.30 L1031.55,731.47 L1031.85,731.64 L1032.15,731.81 L1032.45,731.98 L1032.75,732.16 L1033.05,732.33 L1033.35,732.49 L1033.65,732.65 L1033.95,732.81 L1034.25,732.96 L1034.55,733.10 L1034.85,733.24 L1035.15,733.37 L1035.45,733.51 L1035.75,733.63 L1036.05,733.75 L1036.35,733.87 L1036.65,733.99 L1036.95,734.10 L1037.25,734.21 L1037.55,734.31 L1037.85,734.41 L1038.15,734.51 L1038.45,734.61 L1038.75,734.70 L1039.05,734.79 L1039.35,734.88 L1039.65,734.96 L1039.95,735.04 L1040.25,735.12 L1040.55,735.20 L1040.85,735.27 L1041.15,735.35 L1041.45,735.42 L1041.75,735.49 L1042.05,735.56 L1042.35,735.62 L1042.65,735.69 L1042.95,735.75 L1043.25,735.81 L1043.55,735.87 L1043.85,735.93 L1044.15,735.98 L1044.45,736.04 L1044.75,736.09 L1045.05,736.14 L1045.35,736.19 L1045.65,736.24 L1045.95,736.29 L1046.25,736.34 L1046.55,736.39 L1046.85,736.43 L1047.15,736.48 L1047.45,736.52 L1047.75,736.57 L1048.05,736.61 L1048.35,736.65 L1048.65,736.69 L1048.95,736.73 L1049.25,736.77 L1049.55,736.81 L1049.85,736.84 L1050.15,736.88 L1050.45,736.92 L1050.75,736.95 L1051.05,736.99 L1051.35,737.03 L1051.65,737.06 L1051.95,737.09 L1052.25,737.13 L1052.55,737.16 L1052.85,737.19 L1053.15,737.23 L1053.45,737.26 L1053.75,737.29 L1054.05,737.32 L1054.35,737.35 L1054.65,737.38 L1054.95,737.41 L1055.25,737.44 L1055.55,737.47 L1055.85,737.50 L1056.15,737.53 L1056.45,737.56 L1056.75,737.59 L1057.05,737.61 L1057.35,737.64 L1057.65,737.67 L1057.95,737.70 L1058.25,737.72 L1058.55,737.75 L1058.85,737.78 L1059.15,737.81 L1059.45,737.83 L1059.75,737.86 L1060.05,737.89 L1060.35,737.91 L1060.65,737.94 L1060.95,737.96 L1061.25,737.99 L1061.55,738.02 L1061.85,738.04 L1062.15,738.07 L1062.45,738.09 L1062.75,738.12 L1063.05,738.15 L1063.35,738.17 L1063.65,738.20 L1063.95,738.22 L1064.25,738.25 L1064.55,738.27 L1064.85,738.30 L1065.15,738.32 L1065.45,738.35 L1065.75,738.37 L1066.05,738.40 L1066.35,738.42 L1066.65,738.45 L1066.95,738.47 L1067.25,738.50 L1067.55,738.52 L1067.85,738.55 L1068.15,738.57 L1068.45,738.60 L1068.75,738.62 L1069.05,738.65 L1069.35,738.67 L1069.65,738.70 L1069.95,738.72 L1070.25,738.75 L1070.55,738.77 L1070.85,738.80 L1071.15,738.82 L1071.45,738.85 L1071.75,738.88 L1072.05,738.90 L1072.35,738.93 L1072.65,738.95 L1072.95,738.98 L1073.25,739.00 L1073.55,739.03 L1073.85,739.05 L1074.15,739.08 L1074.45,739.10 L1074.75,739.13 L1075.05,739.15 L1075.35,739.18 L1075.65,739.21 L1075.95,739.23 L1076.25,739.26 L1076.55,739.28 L1076.85,739.31 L1077.15,739.33 L1077.45,739.36 L1077.75,739.39 L1078.05,739.41 L1078.35,739.44 L1078.65,739.46 L1078.95,739.49 L1079.25,739.52 L1079.55,739.54 L1079.85,739.57 L1080.15,739.60 L1080.45,739.62 L1080.75,739.65 L1081.05,739.67 L1081.35,739.70 L1081.65,739.73 L1081.95,739.75 L1082.25,739.78 L1082.55,739.81 L1082.85,739.84 L1083.15,739.86 L1083.45,739.89 L1083.75,739.92 L1084.05,739.94 L1084.35,739.97 L1084.65,740.00 L1084.95,740.02 L1085.25,740.05 L1085.55,740.08 L1085.85,740.11 L1086.15,740.13 L1086.45,740.16 L1086.75,740.19 L1087.05,740.22 L1087.35,740.25 L1087.65,740.27 L1087.95,740.30 L1088.25,740.33 L1088.55,740.36 L1088.85,740.39 L1089.15,740.41 L1089.45,740.44 L1089.75,740.47 L1090.05,740.50 L1090.35,740.53 L1090.65,740.56 L1090.95,740.58 L1091.25,740.61 L1091.55,740.64 L1091.85,740.67 L1092.15,740.70 L1092.45,740.73 L1092.75,740.76 L1093.05,740.79 L1093.35,740.81 L1093.65,740.84 L1093.95,740.87 L1094.25,740.90 L1094.55,740.93 L1094.85,740.96 L1095.15,740.99 L1095.45,741.02 L1095.75,741.05 L1096.05,741.08 L1096.35,741.11 L1096.65,741.14 L1096.95,741.17 L1097.25,741.20 L1097.55,741.23 L1097.85,741.26 L1098.15,741.29 L1098.45,741.32 L1098.75,741.35 L1099.05,741.38 L1099.35,741.41 L1099.65,741.44 L1099.95,741.47 L1100.25,741.50 L1100.55,741.53 L1100.85,741.56 L1101.15,741.60 L1101.45,741.63 L1101.75,741.66 L1102.05,741.69 L1102.35,741.72 L1102.65,741.75 L1102.95,741.78 L1103.25,741.81 L1103.55,741.84 L1103.85,741.88 L1104.15,741.91 L1104.45,741.94 L1104.75,741.97 L1105.05,742.00 L1105.35,742.03 L1105.65,742.07 L1105.95,742.10 L1106.25,742.13 L1106.55,742.16 L1106.85,742.19 L1107.15,742.23 L1107.45,742.26 L1107.75,742.29 L1108.05,742.32 L1108.35,742.36 L1108.65,742.39 L1108.95,742.42 L1109.25,742.45 L1109.55,742.49 L1109.85,742.52 L1110.15,742.55 L1110.45,742.59 L1110.75,742.62 L1111.05,742.65 L1111.35,742.69 L1111.65,742.72 L1111.95,742.75 L1112.25,742.79 L1112.55,742.82 L1112.85,742.85 L1113.15,742.89 L1113.45,742.92 L1113.75,742.95 L1114.05,742.99 L1114.35,743.02 L1114.65,743.06 L1114.95,743.09 L1115.25,743.12 L1115.55,743.16 L1115.85,743.19 L1116.15,743.23 L1116.45,743.26 L1116.75,743.30 L1117.05,743.33 L1117.35,743.37 L1117.65,743.40 L1117.95,743.43 L1118.25,743.47 L1118.55,743.50 L1118.85,743.54 L1119.15,743.57 L1119.45,743.61 L1119.75,743.65 L1120.05,743.68 L1120.35,743.72 L1120.65,743.75 L1120.95,743.79 L1121.25,743.82 L1121.55,743.86 L1121.85,743.89 L1122.15,743.93 L1122.45,743.96 L1122.75,744.00 L1123.05,744.04 L1123.35,744.07 L1123.65,744.11 L1123.95,744.15 L1124.20,744.18 L1124.50,744.22 L1124.80,744.26 L1125.10,744.30 L1125.40,744.34 L1125.70,744.38 L1126.00,744.42 L1126.30,744.46 L1126.60,744.50 L1126.90,744.54 L1127.20,744.58 L1127.50,744.62 L1127.80,744.66 L1128.10,744.71 L1128.40,744.75 L1128.70,744.79 L1129.00,744.83 L1129.30,744.88 L1129.60,744.92 L1129.90,744.97 L1130.20,745.01 L1130.50,745.06 L1130.80,745.10 L1131.10,745.15 L1131.40,745.20 L1131.70,745.24 L1132.00,745.29 L1132.30,745.34 L1132.60,745.39 L1132.90,745.44 L1133.20,745.49 L1133.50,745.55 L1133.80,745.60 L1134.10,745.65 L1134.40,745.71 L1134.70,745.76 L1135.00,745.82 L1135.30,745.88 L1135.60,745.94 L1135.90,746.00 L1136.20,746.06 L1136.50,746.12 L1136.80,746.19 L1137.10,746.25 L1137.40,746.32 L1137.70,746.39 L1138.00,746.47 L1138.30,746.54 L1138.60,746.62 L1138.90,746.70 L1139.20,746.78 L1139.50,746.87 L1139.80,746.95 L1140.10,747.04 L1140.40,747.13 L1140.70,747.22 L1141.00,747.31 L1141.30,747.41 L1141.60,747.50 L1141.90,747.60 L1142.20,747.70 L1142.50,747.80 L1142.80,747.90 L1143.10,748.00 L1143.40,748.11 L1143.70,748.22 L1144.00,748.32 L1144.30,748.44 L1144.60,748.55 L1144.90,748.67 L1145.20,748.80 L1145.50,748.92 L1145.80,749.06 L1146.10,749.19 L1146.40,749.34 L1146.70,749.48 L1147.00,749.64 L1147.30,749.80 L1147.60,749.98 L1147.90,750.17 L1148.20,750.39 L1148.50,750.62 L1148.80,750.87 L1149.10,751.13 L1149.40,751.39 L1149.70,751.67 L1150.00,751.94 L1150.30,752.22 L1150.60,752.49 L1150.90,752.77 L1151.20,753.03 L1151.50,753.28 L1151.80,753.53 L1152.10,753.76 L1152.40,753.97 L1152.70,754.18 L1153.00,754.38 L1153.30,754.58 L1153.60,754.77 L1153.90,754.97 L1154.20,755.15 L1154.50,755.34 L1154.80,755.52 L1155.10,755.69 L1155.40,755.86 L1155.70,756.03 L1156.00,756.19 L1156.30,756.35 L1156.60,756.50 L1156.90,756.64 L1157.20,756.77 L1157.50,756.89 L1157.80,757.01 L1158.10,757.12 L1158.40,757.23 L1158.70,757.34 L1159.00,757.45 L1159.30,757.56 L1159.60,757.68 L1159.90,757.80 L1160.20,757.92 L1160.50,758.06 L1160.80,758.21 L1161.10,758.37 L1161.40,758.54 L1161.70,758.73 L1162.00,758.95 L1162.30,759.19 L1162.60,759.46 L1162.90,759.75 L1163.20,760.05 L1163.50,760.37 L1163.80,760.70 L1164.10,761.04 L1164.40,761.38 L1164.70,761.74 L1165.00,762.15 L1165.30,762.58 L1165.60,763.04 L1165.90,763.52 L1166.20,764.00 L1166.50,764.48 L1166.80,764.95 L1167.10,765.39 L1167.40,765.80 L1167.70,766.17 L1168.00,766.53 L1168.30,766.90 L1168.60,767.25 L1168.90,767.60 L1169.20,767.93 L1169.50,768.24 L1169.80,768.52 L1170.10,768.77 L1170.40,768.98 L1170.70,769.15 L1171.00,769.31 L1171.30,769.45 L1171.60,769.58 L1171.90,769.70 L1172.20,769.81 L1172.50,769.91 L1172.80,770.01 L1173.10,770.10 L1173.40,770.19 L1173.70,770.28 L1174.00,770.37 L1174.30,770.46 L1174.60,770.54 L1174.90,770.63 L1175.20,770.73 L1175.50,770.83 L1175.80,770.94 L1176.10,771.04 L1176.40,771.15 L1176.70,771.26 L1177.00,771.36 L1177.30,771.47 L1177.60,771.58 L1177.90,771.68 L1178.20,771.79 L1178.50,771.90 L1178.80,772.00 L1179.10,772.11 L1179.40,772.22 L1179.70,772.33 L1180.00,772.44 L1180.30,772.55 L1180.60,772.66 L1180.90,772.77 L1181.20,772.88 L1181.50,773.00 L1181.80,773.11 L1182.10,773.23 L1182.40,773.34 L1182.70,773.46 L1183.00,773.58 L1183.30,773.71 L1183.60,773.84 L1183.90,773.97 L1184.20,774.10 L1184.50,774.24 L1184.80,774.38 L1185.10,774.52 L1185.40,774.66 L1185.70,774.79 L1186.00,774.93 L1186.30,775.06 L1186.60,775.19 L1186.90,775.32 L1187.20,775.44 L1187.50,775.56 L1187.80,775.66 L1188.10,775.77 L1188.40,775.88 L1188.70,775.99 L1189.00,776.10 L1189.30,776.21 L1189.60,776.32 L1189.90,776.43 L1190.20,776.53 L1190.50,776.62 L1190.80,776.70 L1191.10,776.77 L1191.40,776.83 L1191.70,776.87 L1192.00,776.90 L1192.30,776.92 L1192.60,776.94 L1192.90,776.96 L1193.20,776.97 L1193.50,776.99 L1193.80,777.01 L1194.10,777.02 L1194.40,777.04 L1194.70,777.05 L1195.00,777.07 L1195.30,777.08 L1195.60,777.09 L1195.90,777.10 L1196.20,777.11 L1196.50,777.12 L1196.80,777.13 L1197.10,777.14 L1197.40,777.15 L1197.70,777.16 L1198.00,777.17 L1198.30,777.17 L1198.60,777.18 L1198.90,777.18 L1199.20,777.19 L1199.50,777.19 L1199.80,777.19 L1200.10,777.20 L1200.40,777.20 L1200.70,777.20 L1201.00,777.20 L1201.30,777.20 L1201.60,777.20 L1201.90,777.20 L1202.20,777.20 L1202.50,777.20 L1202.80,777.20 L1203.10,777.20 L1203.40,777.20 L1203.70,777.20 L1204.00,777.20 L1204.30,777.20 L1204.60,777.20 L1204.90,777.20 L1205.20,777.20 L1205.50,777.20 L1205.80,777.20 L1206.10,777.20 L1206.40,777.20 L1206.70,777.20 L1207.00,777.20 L1207.30,777.20 L1207.60,777.20 L1207.90,777.20 L1208.20,777.20 L1208.50,777.20 L1208.80,777.20 L1209.10,777.20 L1209.40,777.20 L1209.70,777.20 L1210.00,777.20 L1210.30,777.20 L1210.60,777.20 L1210.90,777.20 L1211.20,777.20 L1211.50,777.20 L1211.80,777.20 L1212.10,777.20 L1212.40,777.20 L1212.70,777.20 L1213.00,777.20 L1213.30,777.20 L1213.60,777.20 L1213.90,777.20 L1214.20,777.20 L1214.50,777.20 L1214.80,777.20 L1215.10,777.20 L1215.40,777.20 L1215.70,777.20 L1216.00,777.20 L1216.30,777.20 L1216.60,777.20 L1216.90,777.20 L1217.20,777.20 L1217.50,777.20 L1217.80,777.20 L1218.10,777.20 L1218.40,777.20 L1218.70,777.20 L1219.00,777.20 L1219.30,777.20 L1219.60,777.20 L1219.90,777.20 L1220.20,777.20 L1220.50,777.20 L1220.80,777.20 L1221.10,777.20 L1221.40,777.20 L1221.70,777.20 L1222.00,777.20 L1222.30,777.19 L1222.60,777.18 L1222.90,777.17 L1223.20,777.16 L1223.50,777.15 L1223.80,777.13 L1224.10,777.11 L1224.40,777.10 L1224.70,777.08 L1225.00,777.06 L1225.30,777.04 L1225.60,777.02 L1225.90,776.99 L1226.20,776.97 L1226.50,776.95 L1226.80,776.93 L1227.10,776.91 L1227.40,776.88 L1227.70,776.86 L1228.00,776.84 L1228.30,776.82 L1228.60,776.80 L1228.90,776.79 L1229.20,776.77 L1229.50,776.75 L1229.80,776.74 L1230.10,776.73 L1230.40,776.72 L1230.70,776.71 L1231.00,776.70 L1231.30,776.70 L1231.60,776.70 L1231.90,776.70 L1232.20,776.70 L1232.50,776.70 L1232.80,776.70 L1233.10,776.70 L1233.40,776.70 L1233.70,776.70 L1234.00,776.70 L1234.30,776.70 L1234.60,776.70 L1234.90,776.70 L1235.20,776.70 L1235.50,776.70 L1235.80,776.70 L1236.10,776.70 L1236.40,776.70 L1236.70,776.70 L1237.00,776.70 L1237.30,776.70 L1237.60,776.70 L1237.90,776.70 L1238.20,776.70 L1238.50,776.70 L1238.80,776.70 L1239.10,776.70 L1239.40,776.70 L1239.70,776.70 L1240.00,776.70 L1240.30,776.70 L1240.60,776.70 L1240.90,776.70 L1241.20,776.70 L1241.50,776.70 L1241.80,776.70 L1242.10,776.70 L1242.40,776.70 L1242.70,776.69 L1243.00,776.69 L1243.30,776.69 L1243.60,776.68 L1243.90,776.68 L1244.20,776.67 L1244.50,776.66 L1244.80,776.65 L1245.10,776.64 L1245.40,776.64 L1245.70,776.63 L1246.00,776.61 L1246.30,776.60 L1246.60,776.59 L1246.90,776.58 L1247.20,776.56 L1247.50,776.55 L1247.80,776.54 L1248.10,776.52 L1248.40,776.51 L1248.70,776.49 L1249.00,776.47 L1249.30,776.46 L1249.60,776.44 L1249.90,776.42 L1250.20,776.41 L1250.50,776.39 L1250.80,776.37 L1251.10,776.35 L1251.40,776.33 L1251.70,776.32 L1252.00,776.30 L1252.30,776.28 L1252.60,776.26 L1252.90,776.24 L1253.20,776.22 L1253.50,776.20"/>
<path d="M1192.5,83.5 H1235.5"/>
</g>
</g>
<rect x="84.5" y="51.5" width="1169.0" height="855.0" fill="none" stroke="#000" stroke-width="1"/>
<g font-family="'Liberation Sans', sans-serif" font-size="16px" fill="#000" style="font-kerning:none">
<text x="75.7" y="154.5" text-anchor="end">0.06</text>
<text x="75.7" y="322.5" text-anchor="end">0.05</text>
<text x="75.7" y="489.5" text-anchor="end">0.04</text>
<text x="75.7" y="656.5" text-anchor="end">0.03</text>
<text x="75.7" y="824.5" text-anchor="end">0.02</text>
<text x="203.3" y="929" text-anchor="middle">34000</text>
<text x="320.3" y="929" text-anchor="middle">35000</text>
<text x="437.3" y="929" text-anchor="middle">36000</text>
<text x="554.3" y="929" text-anchor="middle">37000</text>
<text x="671.3" y="929" text-anchor="middle">38000</text>
<text x="788.3" y="929" text-anchor="middle">39000</text>
<text x="904.3" y="929" text-anchor="middle">40000</text>
<text x="1021.3" y="929" text-anchor="middle">41000</text>
<text x="1138.3" y="929" text-anchor="middle">42000</text>
<text x="1255.3" y="929" text-anchor="middle">43000</text>
<text x="669.2" y="31.7" text-anchor="middle">Torque</text>
<text x="623.9 627.9 631.9 640.9 645.9 654.9 658.9 662.9 671.9 680.9 688.9 692.9 696.9 700.9 705.9 709.9" y="954.5">Iterations [ - ]</text>
<text transform="translate(20,479) rotate(-90)" x="-50.0 -40.0 -31.0 -26.0 -17.0 -8.0 1.0 5.0 9.0 13.0 25.0 29.0 42.0 46.0" y="0">Torque [ N.m ]</text>
<text x="1183.9" y="72.8" text-anchor="end">Torque</text>
<text x="1183.9" y="89.8" text-anchor="end">Average Torque</text>
</g>
</svg>
</body>
</html>
